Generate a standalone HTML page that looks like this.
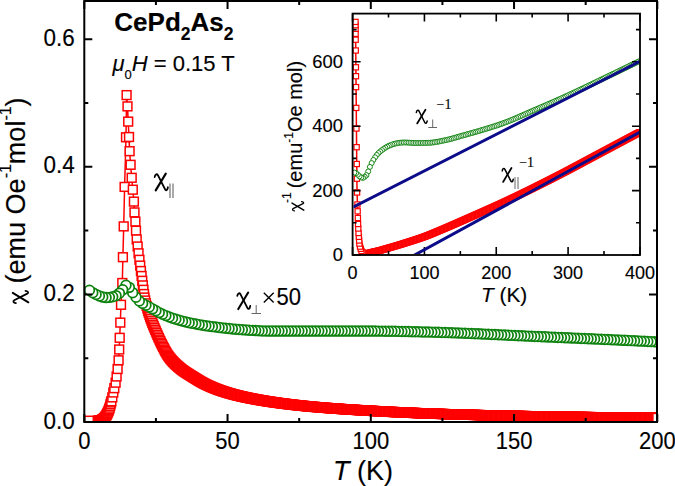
<!DOCTYPE html><html><head><meta charset="utf-8"><style>html,body{margin:0;padding:0;background:#fff;overflow:hidden;}svg{display:block;} text{stroke:#000;stroke-width:0.15px;}</style></head><body><svg width="675" height="486" viewBox="0 0 675 486">
<rect width="675" height="486" fill="#fff"/>
<clipPath id="mc"><rect x="84.3" y="1" width="572.7" height="421"/></clipPath>
<g clip-path="url(#mc)">
<polyline fill="none" stroke="#ff0000" stroke-width="1.5" points="89,420.7 98,420.7 98.45,420.67 98.9,420.65 99.34,420.62 99.79,420.58 100.24,420.46 100.69,420.35 101.14,420.24 101.59,420.05 102.03,419.81 102.48,419.57 102.93,419.29 103.38,418.9 103.83,418.52 104.28,418.11 104.72,417.55 105.17,417 105.62,416.41 106.07,415.7 106.52,414.99 106.97,414.19 107.41,413.34 107.86,412.45 108.31,411.38 108.76,410.3 109.21,408.98 109.66,407.63 110.1,405.99 110.55,404.29 111,402.5 111.3,401.3 112.3,397.4 113.3,392.5 114.3,388.2 115.6,382.7 116.6,376.5 117.6,369 118.6,360.3 119.2,349.5 119.7,337.8 120.3,322.6 121,304.8 122.3,283 122.9,257.2 123.7,226.4 124.6,186.9 126,137.3 126.6,95.1 127.5,106.4 128.2,121.6 129,137 129.6,151.2 130.6,164.8 131.7,177.8 132.8,189.7 133.9,201.6 134.5,212.4 135.4,221.6 136,230.7 136.7,239.4 137.65,246.5 138.56,253.3 139.43,259.8 140.21,265.6 140.93,271 141.6,276 142.25,280.8 142.86,285.4 143.45,289.8 144.02,294 144.47,297.53 145.18,300.55 145.9,303.34 146.61,305.94 147.33,308.38 148.05,310.69 148.76,312.91 149.48,315.04 150.19,317.12 150.91,319.14 151.63,321.07 152.34,322.9 153.06,324.67 153.78,326.39 154.49,328.09 155.21,329.77 155.93,331.45 156.64,333.12 157.36,334.78 158.07,336.41 158.79,338.01 159.51,339.58 160.22,341.11 160.94,342.61 161.66,344.06 162.37,345.46 163.09,346.86 163.8,348.24 164.52,349.6 165.24,350.93 165.95,352.21 166.67,353.42 167.38,354.58 168.1,355.66 168.82,356.66 169.53,357.61 170.25,358.52 170.97,359.39 171.68,360.22 172.4,361.02 173.12,361.79 173.83,362.54 174.55,363.26 175.26,363.96 175.98,364.63 176.7,365.29 177.41,365.94 178.13,366.56 178.84,367.18 179.56,367.78 180.28,368.37 180.99,368.95 181.71,369.51 182.43,370.06 183.14,370.58 183.86,371.09 184.57,371.59 185.29,372.08 186.01,372.55 186.72,373.02 187.44,373.48 188.16,373.94 188.87,374.39 189.59,374.84 190.31,375.28 191.02,375.72 191.74,376.17 192.45,376.61 193.17,377.05 193.89,377.5 194.6,377.95 195.32,378.39 196.04,378.84 196.75,379.28 197.47,379.72 198.18,380.16 198.9,380.59 199.62,381.01 200.33,381.43 201.05,381.84 201.76,382.24 202.48,382.64 203.2,383.02 203.91,383.4 204.63,383.77 205.35,384.13 206.06,384.48 206.78,384.82 207.5,385.16 208.21,385.5 208.93,385.83 209.64,386.15 210.36,386.47 211.08,386.78 211.79,387.09 212.51,387.39 213.23,387.69 213.94,387.98 214.66,388.27 215.37,388.55 216.09,388.83 216.81,389.1 217.52,389.37 218.24,389.64 218.95,389.9 219.67,390.16 220.39,390.41 221.1,390.66 221.82,390.9 222.54,391.15 223.25,391.38 223.97,391.62 224.69,391.85 225.4,392.08 226.12,392.3 226.83,392.52 227.55,392.74 228.27,392.95 228.98,393.16 229.7,393.37 230.42,393.57 231.13,393.78 231.85,393.98 232.56,394.17 233.28,394.36 234,394.55 234.71,394.74 235.43,394.93 236.14,395.11 236.86,395.29 237.58,395.46 238.29,395.64 239.01,395.81 239.73,395.98 240.44,396.15 241.16,396.32 241.88,396.48 242.59,396.64 243.31,396.8 244.02,396.96 244.74,397.11 245.46,397.27 246.17,397.42 246.89,397.57 247.61,397.72 248.32,397.87 249.04,398.01 249.75,398.16 250.47,398.3 251.19,398.44 251.9,398.58 252.62,398.72 253.34,398.86 254.05,398.99 254.77,399.13 255.48,399.26 256.2,399.39 256.92,399.52 257.63,399.65 258.35,399.78 259.06,399.91 259.78,400.04 260.5,400.16 261.21,400.28 261.93,400.41 262.65,400.53 263.36,400.65 264.08,400.77 264.8,400.88 265.51,401 266.23,401.12 266.94,401.23 267.66,401.34 268.38,401.46 269.09,401.57 269.81,401.68 270.53,401.79 271.24,401.89 271.96,402 272.67,402.11 273.39,402.21 274.11,402.31 274.82,402.42 275.54,402.52 276.25,402.62 276.97,402.72 277.69,402.82 278.4,402.92 279.12,403.02 279.84,403.11 280.55,403.21 281.27,403.3 281.99,403.4 282.7,403.49 283.42,403.58 284.13,403.67 284.85,403.77 285.57,403.86 286.28,403.94 287,404.03 287.72,404.12 288.43,404.21 289.15,404.29 289.86,404.38 290.58,404.46 291.3,404.55 292.01,404.63 292.73,404.71 293.44,404.8 294.16,404.88 294.88,404.96 295.59,405.04 296.31,405.12 297.03,405.2 297.74,405.27 298.46,405.35 299.18,405.43 299.89,405.5 300.61,405.58 301.32,405.65 302.04,405.73 302.76,405.8 303.47,405.87 304.19,405.95 304.91,406.02 305.62,406.09 306.34,406.16 307.05,406.23 307.77,406.3 308.49,406.36 309.2,406.43 309.92,406.5 310.63,406.57 311.35,406.63 312.07,406.7 312.78,406.76 313.5,406.83 314.22,406.89 314.93,406.95 315.65,407.02 316.37,407.08 317.08,407.14 317.8,407.2 318.51,407.26 319.23,407.32 319.95,407.38 320.66,407.44 321.38,407.5 322.1,407.56 322.81,407.62 323.53,407.67 324.24,407.73 324.96,407.79 325.68,407.85 326.39,407.9 327.11,407.96 327.82,408.01 328.54,408.07 329.26,408.12 329.97,408.18 330.69,408.23 331.41,408.28 332.12,408.34 332.84,408.39 333.56,408.44 334.27,408.49 334.99,408.55 335.7,408.6 336.42,408.65 337.14,408.7 337.85,408.75 338.57,408.8 339.29,408.85 340,408.9 340.72,408.95 341.43,409 342.15,409.05 342.87,409.1 343.58,409.14 344.3,409.19 345.02,409.24 345.73,409.29 346.45,409.34 347.16,409.38 347.88,409.43 348.6,409.48 349.31,409.52 350.03,409.57 350.75,409.61 351.46,409.66 352.18,409.7 352.89,409.75 353.61,409.79 354.33,409.84 355.04,409.88 355.76,409.93 356.48,409.97 357.19,410.01 357.91,410.06 358.62,410.1 359.34,410.14 360.06,410.19 360.77,410.23 361.49,410.27 362.21,410.31 362.92,410.36 363.64,410.4 364.35,410.44 365.07,410.48 365.79,410.52 366.5,410.56 367.22,410.6 367.94,410.65 368.65,410.69 369.37,410.73 370.08,410.77 370.8,410.81 371.52,410.85 372.23,410.89 372.95,410.93 373.67,410.97 374.38,411.01 375.1,411.04 375.81,411.08 376.53,411.12 377.25,411.16 377.96,411.2 378.68,411.24 379.4,411.28 380.11,411.32 380.83,411.35 381.54,411.39 382.26,411.43 382.98,411.47 383.69,411.51 384.41,411.54 385.13,411.58 385.84,411.62 386.56,411.66 387.27,411.69 387.99,411.73 388.71,411.77 389.42,411.8 390.14,411.84 390.86,411.87 391.57,411.91 392.29,411.95 393,411.98 393.72,412.02 394.44,412.05 395.15,412.09 395.87,412.12 396.59,412.16 397.3,412.19 398.02,412.22 398.73,412.26 399.45,412.29 400.17,412.33 400.88,412.36 401.6,412.39 402.32,412.43 403.03,412.46 403.75,412.49 404.46,412.52 405.18,412.56 405.9,412.59 406.61,412.62 407.33,412.65 408.05,412.68 408.76,412.71 409.48,412.75 410.19,412.78 410.91,412.81 411.63,412.84 412.34,412.87 413.06,412.9 413.78,412.93 414.49,412.96 415.21,412.99 415.92,413.02 416.64,413.05 417.36,413.08 418.07,413.11 418.79,413.14 419.51,413.16 420.22,413.19 420.94,413.22 421.65,413.25 422.37,413.28 423.09,413.3 423.8,413.33 424.52,413.36 425.24,413.39 425.95,413.41 426.67,413.44 427.38,413.47 428.1,413.49 428.82,413.52 429.53,413.55 430.25,413.57 430.97,413.6 431.68,413.62 432.4,413.65 433.11,413.67 433.83,413.7 434.55,413.72 435.26,413.75 435.98,413.77 436.7,413.8 437.41,413.82 438.13,413.85 438.84,413.87 439.56,413.9 440.28,413.92 440.99,413.95 441.71,413.97 442.43,413.99 443.14,414.02 443.86,414.04 444.57,414.06 445.29,414.09 446.01,414.11 446.72,414.13 447.44,414.16 448.16,414.18 448.87,414.2 449.59,414.22 450.3,414.25 451.02,414.27 451.74,414.29 452.45,414.31 453.17,414.33 453.89,414.36 454.6,414.38 455.32,414.4 456.03,414.42 456.75,414.44 457.47,414.46 458.18,414.48 458.9,414.51 459.62,414.53 460.33,414.55 461.05,414.57 461.76,414.59 462.48,414.61 463.2,414.63 463.91,414.65 464.63,414.67 465.35,414.69 466.06,414.71 466.78,414.73 467.49,414.75 468.21,414.77 468.93,414.79 469.64,414.81 470.36,414.83 471.08,414.85 471.79,414.87 472.51,414.89 473.22,414.91 473.94,414.92 474.66,414.94 475.37,414.96 476.09,414.98 476.81,415 477.52,415.02 478.24,415.04 478.95,415.05 479.67,415.07 480.39,415.09 481.1,415.11 481.82,415.13 482.54,415.14 483.25,415.16 483.97,415.18 484.68,415.2 485.4,415.22 486.12,415.23 486.83,415.25 487.55,415.27 488.27,415.28 488.98,415.3 489.7,415.32 490.41,415.34 491.13,415.35 491.85,415.37 492.56,415.39 493.28,415.4 494,415.42 494.71,415.44 495.43,415.45 496.14,415.47 496.86,415.49 497.58,415.5 498.29,415.52 499.01,415.53 499.73,415.55 500.44,415.57 501.16,415.58 501.87,415.6 502.59,415.61 503.31,415.63 504.02,415.64 504.74,415.66 505.46,415.67 506.17,415.69 506.89,415.71 507.6,415.72 508.32,415.74 509.04,415.75 509.75,415.77 510.47,415.78 511.19,415.8 511.9,415.81 512.62,415.82 513.33,415.84 514.05,415.85 514.77,415.87 515.48,415.88 516.2,415.9 516.91,415.91 517.63,415.93 518.35,415.94 519.06,415.95 519.78,415.97 520.5,415.98 521.21,416 521.93,416.01 522.64,416.02 523.36,416.04 524.08,416.05 524.79,416.06 525.51,416.08 526.23,416.09 526.94,416.11 527.66,416.12 528.38,416.13 529.09,416.15 529.81,416.16 530.52,416.17 531.24,416.18 531.96,416.2 532.67,416.21 533.39,416.22 534.11,416.24 534.82,416.25 535.54,416.26 536.25,416.27 536.97,416.29 537.69,416.3 538.4,416.31 539.12,416.32 539.84,416.34 540.55,416.35 541.27,416.36 541.98,416.37 542.7,416.39 543.42,416.4 544.13,416.41 544.85,416.42 545.57,416.43 546.28,416.45 547,416.46 547.71,416.47 548.43,416.48 549.15,416.49 549.86,416.51 550.58,416.52 551.3,416.53 552.01,416.54 552.73,416.55 553.44,416.56 554.16,416.57 554.88,416.59 555.59,416.6 556.31,416.61 557.02,416.62 557.74,416.63 558.46,416.64 559.17,416.65 559.89,416.66 560.61,416.67 561.32,416.69 562.04,416.7 562.75,416.71 563.47,416.72 564.19,416.73 564.9,416.74 565.62,416.75 566.34,416.76 567.05,416.77 567.77,416.78 568.49,416.79 569.2,416.8 569.92,416.81 570.63,416.82 571.35,416.83 572.07,416.84 572.78,416.85 573.5,416.86 574.22,416.87 574.93,416.89 575.65,416.9 576.36,416.91 577.08,416.92 577.8,416.93 578.51,416.94 579.23,416.94 579.95,416.95 580.66,416.96 581.38,416.97 582.09,416.98 582.81,416.99 583.53,417 584.24,417.01 584.96,417.02 585.68,417.03 586.39,417.04 587.11,417.05 587.82,417.06 588.54,417.07 589.26,417.08 589.97,417.09 590.69,417.1 591.4,417.11 592.12,417.12 592.84,417.13 593.55,417.14 594.27,417.14 594.99,417.15 595.7,417.16 596.42,417.17 597.13,417.18 597.85,417.19 598.57,417.2 599.28,417.21 600,417.22 600.72,417.23 601.43,417.23 602.15,417.24 602.87,417.25 603.58,417.26 604.3,417.27 605.01,417.28 605.73,417.29 606.45,417.29 607.16,417.3 607.88,417.31 608.6,417.32 609.31,417.33 610.03,417.34 610.74,417.35 611.46,417.35 612.18,417.36 612.89,417.37 613.61,417.38 614.33,417.39 615.04,417.4 615.76,417.4 616.47,417.41 617.19,417.42 617.91,417.43 618.62,417.44 619.34,417.44 620.05,417.45 620.77,417.46 621.49,417.47 622.2,417.48 622.92,417.48 623.64,417.49 624.35,417.5 625.07,417.51 625.78,417.52 626.5,417.52 627.22,417.53 627.93,417.54 628.65,417.55 629.37,417.56 630.08,417.56 630.8,417.57 631.51,417.58 632.23,417.59 632.95,417.59 633.66,417.6 634.38,417.61 635.1,417.62 635.81,417.62 636.53,417.63 637.25,417.64 637.96,417.65 638.68,417.65 639.39,417.66 640.11,417.67 640.83,417.68 641.54,417.68 642.26,417.69 642.98,417.7 643.69,417.7 644.41,417.71 645.12,417.72 645.84,417.73 646.56,417.73 647.27,417.74 647.99,417.75 648.71,417.76 649.42,417.76 650.14,417.77 650.85,417.78 651.57,417.78 652.29,417.79 653,417.8 653.72,417.8 654.43,417.81 655.15,417.82 655.87,417.83 656.58,417.83 657.3,417.84"/>
<g fill="#fff" stroke="#ff0000" stroke-width="1.5"><rect x="84.6" y="416.3" width="8.8" height="8.8"/><rect x="93.6" y="416.3" width="8.8" height="8.8"/><rect x="94.05" y="416.27" width="8.8" height="8.8"/><rect x="94.5" y="416.25" width="8.8" height="8.8"/><rect x="94.94" y="416.22" width="8.8" height="8.8"/><rect x="95.39" y="416.18" width="8.8" height="8.8"/><rect x="95.84" y="416.06" width="8.8" height="8.8"/><rect x="96.29" y="415.95" width="8.8" height="8.8"/><rect x="96.74" y="415.84" width="8.8" height="8.8"/><rect x="97.19" y="415.65" width="8.8" height="8.8"/><rect x="97.63" y="415.41" width="8.8" height="8.8"/><rect x="98.08" y="415.17" width="8.8" height="8.8"/><rect x="98.53" y="414.89" width="8.8" height="8.8"/><rect x="98.98" y="414.5" width="8.8" height="8.8"/><rect x="99.43" y="414.12" width="8.8" height="8.8"/><rect x="99.88" y="413.71" width="8.8" height="8.8"/><rect x="100.32" y="413.15" width="8.8" height="8.8"/><rect x="100.77" y="412.6" width="8.8" height="8.8"/><rect x="101.22" y="412.01" width="8.8" height="8.8"/><rect x="101.67" y="411.3" width="8.8" height="8.8"/><rect x="102.12" y="410.59" width="8.8" height="8.8"/><rect x="102.57" y="409.79" width="8.8" height="8.8"/><rect x="103.01" y="408.94" width="8.8" height="8.8"/><rect x="103.46" y="408.05" width="8.8" height="8.8"/><rect x="103.91" y="406.98" width="8.8" height="8.8"/><rect x="104.36" y="405.9" width="8.8" height="8.8"/><rect x="104.81" y="404.58" width="8.8" height="8.8"/><rect x="105.26" y="403.23" width="8.8" height="8.8"/><rect x="105.7" y="401.59" width="8.8" height="8.8"/><rect x="106.15" y="399.89" width="8.8" height="8.8"/><rect x="106.6" y="398.1" width="8.8" height="8.8"/><rect x="106.9" y="396.9" width="8.8" height="8.8"/><rect x="107.9" y="393" width="8.8" height="8.8"/><rect x="108.9" y="388.1" width="8.8" height="8.8"/><rect x="109.9" y="383.8" width="8.8" height="8.8"/><rect x="111.2" y="378.3" width="8.8" height="8.8"/><rect x="112.2" y="372.1" width="8.8" height="8.8"/><rect x="113.2" y="364.6" width="8.8" height="8.8"/><rect x="114.2" y="355.9" width="8.8" height="8.8"/><rect x="114.8" y="345.1" width="8.8" height="8.8"/><rect x="115.3" y="333.4" width="8.8" height="8.8"/><rect x="115.9" y="318.2" width="8.8" height="8.8"/><rect x="116.6" y="300.4" width="8.8" height="8.8"/><rect x="117.9" y="278.6" width="8.8" height="8.8"/><rect x="118.5" y="252.8" width="8.8" height="8.8"/><rect x="119.3" y="222" width="8.8" height="8.8"/><rect x="120.2" y="182.5" width="8.8" height="8.8"/><rect x="121.6" y="132.9" width="8.8" height="8.8"/><rect x="122.2" y="90.7" width="8.8" height="8.8"/><rect x="123.1" y="102" width="8.8" height="8.8"/><rect x="123.8" y="117.2" width="8.8" height="8.8"/><rect x="124.6" y="132.6" width="8.8" height="8.8"/><rect x="125.2" y="146.8" width="8.8" height="8.8"/><rect x="126.2" y="160.4" width="8.8" height="8.8"/><rect x="127.3" y="173.4" width="8.8" height="8.8"/><rect x="128.4" y="185.3" width="8.8" height="8.8"/><rect x="129.5" y="197.2" width="8.8" height="8.8"/><rect x="130.1" y="208" width="8.8" height="8.8"/><rect x="131" y="217.2" width="8.8" height="8.8"/><rect x="131.6" y="226.3" width="8.8" height="8.8"/><rect x="132.3" y="235" width="8.8" height="8.8"/><rect x="133.25" y="242.1" width="8.8" height="8.8"/><rect x="134.16" y="248.9" width="8.8" height="8.8"/><rect x="135.03" y="255.4" width="8.8" height="8.8"/><rect x="135.81" y="261.2" width="8.8" height="8.8"/><rect x="136.53" y="266.6" width="8.8" height="8.8"/><rect x="137.2" y="271.6" width="8.8" height="8.8"/><rect x="137.85" y="276.4" width="8.8" height="8.8"/><rect x="138.46" y="281" width="8.8" height="8.8"/><rect x="139.05" y="285.4" width="8.8" height="8.8"/><rect x="139.62" y="289.6" width="8.8" height="8.8"/><rect x="140.06" y="293.13" width="8.8" height="8.8"/><rect x="140.78" y="296.15" width="8.8" height="8.8"/><rect x="141.5" y="298.94" width="8.8" height="8.8"/><rect x="142.21" y="301.54" width="8.8" height="8.8"/><rect x="142.93" y="303.98" width="8.8" height="8.8"/><rect x="143.65" y="306.29" width="8.8" height="8.8"/><rect x="144.36" y="308.51" width="8.8" height="8.8"/><rect x="145.08" y="310.64" width="8.8" height="8.8"/><rect x="145.79" y="312.72" width="8.8" height="8.8"/><rect x="146.51" y="314.74" width="8.8" height="8.8"/><rect x="147.23" y="316.67" width="8.8" height="8.8"/><rect x="147.94" y="318.5" width="8.8" height="8.8"/><rect x="148.66" y="320.27" width="8.8" height="8.8"/><rect x="149.38" y="321.99" width="8.8" height="8.8"/><rect x="150.09" y="323.69" width="8.8" height="8.8"/><rect x="150.81" y="325.37" width="8.8" height="8.8"/><rect x="151.53" y="327.05" width="8.8" height="8.8"/><rect x="152.24" y="328.72" width="8.8" height="8.8"/><rect x="152.96" y="330.38" width="8.8" height="8.8"/><rect x="153.67" y="332.01" width="8.8" height="8.8"/><rect x="154.39" y="333.61" width="8.8" height="8.8"/><rect x="155.11" y="335.18" width="8.8" height="8.8"/><rect x="155.82" y="336.71" width="8.8" height="8.8"/><rect x="156.54" y="338.21" width="8.8" height="8.8"/><rect x="157.25" y="339.66" width="8.8" height="8.8"/><rect x="157.97" y="341.06" width="8.8" height="8.8"/><rect x="158.69" y="342.46" width="8.8" height="8.8"/><rect x="159.4" y="343.84" width="8.8" height="8.8"/><rect x="160.12" y="345.2" width="8.8" height="8.8"/><rect x="160.84" y="346.53" width="8.8" height="8.8"/><rect x="161.55" y="347.81" width="8.8" height="8.8"/><rect x="162.27" y="349.02" width="8.8" height="8.8"/><rect x="162.98" y="350.18" width="8.8" height="8.8"/><rect x="163.7" y="351.26" width="8.8" height="8.8"/><rect x="164.42" y="352.26" width="8.8" height="8.8"/><rect x="165.13" y="353.21" width="8.8" height="8.8"/><rect x="165.85" y="354.12" width="8.8" height="8.8"/><rect x="166.57" y="354.99" width="8.8" height="8.8"/><rect x="167.28" y="355.82" width="8.8" height="8.8"/><rect x="168" y="356.62" width="8.8" height="8.8"/><rect x="168.72" y="357.39" width="8.8" height="8.8"/><rect x="169.43" y="358.14" width="8.8" height="8.8"/><rect x="170.15" y="358.86" width="8.8" height="8.8"/><rect x="170.86" y="359.56" width="8.8" height="8.8"/><rect x="171.58" y="360.23" width="8.8" height="8.8"/><rect x="172.3" y="360.89" width="8.8" height="8.8"/><rect x="173.01" y="361.54" width="8.8" height="8.8"/><rect x="173.73" y="362.16" width="8.8" height="8.8"/><rect x="174.44" y="362.78" width="8.8" height="8.8"/><rect x="175.16" y="363.38" width="8.8" height="8.8"/><rect x="175.88" y="363.97" width="8.8" height="8.8"/><rect x="176.59" y="364.55" width="8.8" height="8.8"/><rect x="177.31" y="365.11" width="8.8" height="8.8"/><rect x="178.03" y="365.66" width="8.8" height="8.8"/><rect x="178.74" y="366.18" width="8.8" height="8.8"/><rect x="179.46" y="366.69" width="8.8" height="8.8"/><rect x="180.17" y="367.19" width="8.8" height="8.8"/><rect x="180.89" y="367.68" width="8.8" height="8.8"/><rect x="181.61" y="368.15" width="8.8" height="8.8"/><rect x="182.32" y="368.62" width="8.8" height="8.8"/><rect x="183.04" y="369.08" width="8.8" height="8.8"/><rect x="183.76" y="369.54" width="8.8" height="8.8"/><rect x="184.47" y="369.99" width="8.8" height="8.8"/><rect x="185.19" y="370.44" width="8.8" height="8.8"/><rect x="185.91" y="370.88" width="8.8" height="8.8"/><rect x="186.62" y="371.32" width="8.8" height="8.8"/><rect x="187.34" y="371.77" width="8.8" height="8.8"/><rect x="188.05" y="372.21" width="8.8" height="8.8"/><rect x="188.77" y="372.65" width="8.8" height="8.8"/><rect x="189.49" y="373.1" width="8.8" height="8.8"/><rect x="190.2" y="373.55" width="8.8" height="8.8"/><rect x="190.92" y="373.99" width="8.8" height="8.8"/><rect x="191.64" y="374.44" width="8.8" height="8.8"/><rect x="192.35" y="374.88" width="8.8" height="8.8"/><rect x="193.07" y="375.32" width="8.8" height="8.8"/><rect x="193.78" y="375.76" width="8.8" height="8.8"/><rect x="194.5" y="376.19" width="8.8" height="8.8"/><rect x="195.22" y="376.61" width="8.8" height="8.8"/><rect x="195.93" y="377.03" width="8.8" height="8.8"/><rect x="196.65" y="377.44" width="8.8" height="8.8"/><rect x="197.36" y="377.84" width="8.8" height="8.8"/><rect x="198.08" y="378.24" width="8.8" height="8.8"/><rect x="198.8" y="378.62" width="8.8" height="8.8"/><rect x="199.51" y="379" width="8.8" height="8.8"/><rect x="200.23" y="379.37" width="8.8" height="8.8"/><rect x="200.95" y="379.73" width="8.8" height="8.8"/><rect x="201.66" y="380.08" width="8.8" height="8.8"/><rect x="202.38" y="380.42" width="8.8" height="8.8"/><rect x="203.09" y="380.76" width="8.8" height="8.8"/><rect x="203.81" y="381.1" width="8.8" height="8.8"/><rect x="204.53" y="381.43" width="8.8" height="8.8"/><rect x="205.24" y="381.75" width="8.8" height="8.8"/><rect x="205.96" y="382.07" width="8.8" height="8.8"/><rect x="206.68" y="382.38" width="8.8" height="8.8"/><rect x="207.39" y="382.69" width="8.8" height="8.8"/><rect x="208.11" y="382.99" width="8.8" height="8.8"/><rect x="208.83" y="383.29" width="8.8" height="8.8"/><rect x="209.54" y="383.58" width="8.8" height="8.8"/><rect x="210.26" y="383.87" width="8.8" height="8.8"/><rect x="210.97" y="384.15" width="8.8" height="8.8"/><rect x="211.69" y="384.43" width="8.8" height="8.8"/><rect x="212.41" y="384.7" width="8.8" height="8.8"/><rect x="213.12" y="384.97" width="8.8" height="8.8"/><rect x="213.84" y="385.24" width="8.8" height="8.8"/><rect x="214.55" y="385.5" width="8.8" height="8.8"/><rect x="215.27" y="385.76" width="8.8" height="8.8"/><rect x="215.99" y="386.01" width="8.8" height="8.8"/><rect x="216.7" y="386.26" width="8.8" height="8.8"/><rect x="217.42" y="386.5" width="8.8" height="8.8"/><rect x="218.14" y="386.75" width="8.8" height="8.8"/><rect x="218.85" y="386.98" width="8.8" height="8.8"/><rect x="219.57" y="387.22" width="8.8" height="8.8"/><rect x="220.28" y="387.45" width="8.8" height="8.8"/><rect x="221" y="387.68" width="8.8" height="8.8"/><rect x="221.72" y="387.9" width="8.8" height="8.8"/><rect x="222.43" y="388.12" width="8.8" height="8.8"/><rect x="223.15" y="388.34" width="8.8" height="8.8"/><rect x="223.87" y="388.55" width="8.8" height="8.8"/><rect x="224.58" y="388.76" width="8.8" height="8.8"/><rect x="225.3" y="388.97" width="8.8" height="8.8"/><rect x="226.02" y="389.17" width="8.8" height="8.8"/><rect x="226.73" y="389.38" width="8.8" height="8.8"/><rect x="227.45" y="389.58" width="8.8" height="8.8"/><rect x="228.16" y="389.77" width="8.8" height="8.8"/><rect x="228.88" y="389.96" width="8.8" height="8.8"/><rect x="229.6" y="390.15" width="8.8" height="8.8"/><rect x="230.31" y="390.34" width="8.8" height="8.8"/><rect x="231.03" y="390.53" width="8.8" height="8.8"/><rect x="231.74" y="390.71" width="8.8" height="8.8"/><rect x="232.46" y="390.89" width="8.8" height="8.8"/><rect x="233.18" y="391.06" width="8.8" height="8.8"/><rect x="233.89" y="391.24" width="8.8" height="8.8"/><rect x="234.61" y="391.41" width="8.8" height="8.8"/><rect x="235.33" y="391.58" width="8.8" height="8.8"/><rect x="236.04" y="391.75" width="8.8" height="8.8"/><rect x="236.76" y="391.92" width="8.8" height="8.8"/><rect x="237.47" y="392.08" width="8.8" height="8.8"/><rect x="238.19" y="392.24" width="8.8" height="8.8"/><rect x="238.91" y="392.4" width="8.8" height="8.8"/><rect x="239.62" y="392.56" width="8.8" height="8.8"/><rect x="240.34" y="392.71" width="8.8" height="8.8"/><rect x="241.06" y="392.87" width="8.8" height="8.8"/><rect x="241.77" y="393.02" width="8.8" height="8.8"/><rect x="242.49" y="393.17" width="8.8" height="8.8"/><rect x="243.21" y="393.32" width="8.8" height="8.8"/><rect x="243.92" y="393.47" width="8.8" height="8.8"/><rect x="244.64" y="393.61" width="8.8" height="8.8"/><rect x="245.35" y="393.76" width="8.8" height="8.8"/><rect x="246.07" y="393.9" width="8.8" height="8.8"/><rect x="246.79" y="394.04" width="8.8" height="8.8"/><rect x="247.5" y="394.18" width="8.8" height="8.8"/><rect x="248.22" y="394.32" width="8.8" height="8.8"/><rect x="248.94" y="394.46" width="8.8" height="8.8"/><rect x="249.65" y="394.59" width="8.8" height="8.8"/><rect x="250.37" y="394.73" width="8.8" height="8.8"/><rect x="251.08" y="394.86" width="8.8" height="8.8"/><rect x="251.8" y="394.99" width="8.8" height="8.8"/><rect x="252.52" y="395.12" width="8.8" height="8.8"/><rect x="253.23" y="395.25" width="8.8" height="8.8"/><rect x="253.95" y="395.38" width="8.8" height="8.8"/><rect x="254.66" y="395.51" width="8.8" height="8.8"/><rect x="255.38" y="395.64" width="8.8" height="8.8"/><rect x="256.1" y="395.76" width="8.8" height="8.8"/><rect x="256.81" y="395.88" width="8.8" height="8.8"/><rect x="257.53" y="396.01" width="8.8" height="8.8"/><rect x="258.25" y="396.13" width="8.8" height="8.8"/><rect x="258.96" y="396.25" width="8.8" height="8.8"/><rect x="259.68" y="396.37" width="8.8" height="8.8"/><rect x="260.4" y="396.48" width="8.8" height="8.8"/><rect x="261.11" y="396.6" width="8.8" height="8.8"/><rect x="261.83" y="396.72" width="8.8" height="8.8"/><rect x="262.54" y="396.83" width="8.8" height="8.8"/><rect x="263.26" y="396.94" width="8.8" height="8.8"/><rect x="263.98" y="397.06" width="8.8" height="8.8"/><rect x="264.69" y="397.17" width="8.8" height="8.8"/><rect x="265.41" y="397.28" width="8.8" height="8.8"/><rect x="266.13" y="397.39" width="8.8" height="8.8"/><rect x="266.84" y="397.49" width="8.8" height="8.8"/><rect x="267.56" y="397.6" width="8.8" height="8.8"/><rect x="268.27" y="397.71" width="8.8" height="8.8"/><rect x="268.99" y="397.81" width="8.8" height="8.8"/><rect x="269.71" y="397.91" width="8.8" height="8.8"/><rect x="270.42" y="398.02" width="8.8" height="8.8"/><rect x="271.14" y="398.12" width="8.8" height="8.8"/><rect x="271.86" y="398.22" width="8.8" height="8.8"/><rect x="272.57" y="398.32" width="8.8" height="8.8"/><rect x="273.29" y="398.42" width="8.8" height="8.8"/><rect x="274" y="398.52" width="8.8" height="8.8"/><rect x="274.72" y="398.62" width="8.8" height="8.8"/><rect x="275.44" y="398.71" width="8.8" height="8.8"/><rect x="276.15" y="398.81" width="8.8" height="8.8"/><rect x="276.87" y="398.9" width="8.8" height="8.8"/><rect x="277.59" y="399" width="8.8" height="8.8"/><rect x="278.3" y="399.09" width="8.8" height="8.8"/><rect x="279.02" y="399.18" width="8.8" height="8.8"/><rect x="279.73" y="399.27" width="8.8" height="8.8"/><rect x="280.45" y="399.37" width="8.8" height="8.8"/><rect x="281.17" y="399.46" width="8.8" height="8.8"/><rect x="281.88" y="399.54" width="8.8" height="8.8"/><rect x="282.6" y="399.63" width="8.8" height="8.8"/><rect x="283.32" y="399.72" width="8.8" height="8.8"/><rect x="284.03" y="399.81" width="8.8" height="8.8"/><rect x="284.75" y="399.89" width="8.8" height="8.8"/><rect x="285.46" y="399.98" width="8.8" height="8.8"/><rect x="286.18" y="400.06" width="8.8" height="8.8"/><rect x="286.9" y="400.15" width="8.8" height="8.8"/><rect x="287.61" y="400.23" width="8.8" height="8.8"/><rect x="288.33" y="400.31" width="8.8" height="8.8"/><rect x="289.05" y="400.4" width="8.8" height="8.8"/><rect x="289.76" y="400.48" width="8.8" height="8.8"/><rect x="290.48" y="400.56" width="8.8" height="8.8"/><rect x="291.19" y="400.64" width="8.8" height="8.8"/><rect x="291.91" y="400.72" width="8.8" height="8.8"/><rect x="292.63" y="400.8" width="8.8" height="8.8"/><rect x="293.34" y="400.87" width="8.8" height="8.8"/><rect x="294.06" y="400.95" width="8.8" height="8.8"/><rect x="294.78" y="401.03" width="8.8" height="8.8"/><rect x="295.49" y="401.1" width="8.8" height="8.8"/><rect x="296.21" y="401.18" width="8.8" height="8.8"/><rect x="296.92" y="401.25" width="8.8" height="8.8"/><rect x="297.64" y="401.33" width="8.8" height="8.8"/><rect x="298.36" y="401.4" width="8.8" height="8.8"/><rect x="299.07" y="401.47" width="8.8" height="8.8"/><rect x="299.79" y="401.55" width="8.8" height="8.8"/><rect x="300.51" y="401.62" width="8.8" height="8.8"/><rect x="301.22" y="401.69" width="8.8" height="8.8"/><rect x="301.94" y="401.76" width="8.8" height="8.8"/><rect x="302.65" y="401.83" width="8.8" height="8.8"/><rect x="303.37" y="401.9" width="8.8" height="8.8"/><rect x="304.09" y="401.96" width="8.8" height="8.8"/><rect x="304.8" y="402.03" width="8.8" height="8.8"/><rect x="305.52" y="402.1" width="8.8" height="8.8"/><rect x="306.24" y="402.17" width="8.8" height="8.8"/><rect x="306.95" y="402.23" width="8.8" height="8.8"/><rect x="307.67" y="402.3" width="8.8" height="8.8"/><rect x="308.38" y="402.36" width="8.8" height="8.8"/><rect x="309.1" y="402.43" width="8.8" height="8.8"/><rect x="309.82" y="402.49" width="8.8" height="8.8"/><rect x="310.53" y="402.55" width="8.8" height="8.8"/><rect x="311.25" y="402.62" width="8.8" height="8.8"/><rect x="311.97" y="402.68" width="8.8" height="8.8"/><rect x="312.68" y="402.74" width="8.8" height="8.8"/><rect x="313.4" y="402.8" width="8.8" height="8.8"/><rect x="314.11" y="402.86" width="8.8" height="8.8"/><rect x="314.83" y="402.92" width="8.8" height="8.8"/><rect x="315.55" y="402.98" width="8.8" height="8.8"/><rect x="316.26" y="403.04" width="8.8" height="8.8"/><rect x="316.98" y="403.1" width="8.8" height="8.8"/><rect x="317.7" y="403.16" width="8.8" height="8.8"/><rect x="318.41" y="403.22" width="8.8" height="8.8"/><rect x="319.13" y="403.27" width="8.8" height="8.8"/><rect x="319.84" y="403.33" width="8.8" height="8.8"/><rect x="320.56" y="403.39" width="8.8" height="8.8"/><rect x="321.28" y="403.45" width="8.8" height="8.8"/><rect x="321.99" y="403.5" width="8.8" height="8.8"/><rect x="322.71" y="403.56" width="8.8" height="8.8"/><rect x="323.43" y="403.61" width="8.8" height="8.8"/><rect x="324.14" y="403.67" width="8.8" height="8.8"/><rect x="324.86" y="403.72" width="8.8" height="8.8"/><rect x="325.57" y="403.78" width="8.8" height="8.8"/><rect x="326.29" y="403.83" width="8.8" height="8.8"/><rect x="327.01" y="403.88" width="8.8" height="8.8"/><rect x="327.72" y="403.94" width="8.8" height="8.8"/><rect x="328.44" y="403.99" width="8.8" height="8.8"/><rect x="329.16" y="404.04" width="8.8" height="8.8"/><rect x="329.87" y="404.09" width="8.8" height="8.8"/><rect x="330.59" y="404.15" width="8.8" height="8.8"/><rect x="331.3" y="404.2" width="8.8" height="8.8"/><rect x="332.02" y="404.25" width="8.8" height="8.8"/><rect x="332.74" y="404.3" width="8.8" height="8.8"/><rect x="333.45" y="404.35" width="8.8" height="8.8"/><rect x="334.17" y="404.4" width="8.8" height="8.8"/><rect x="334.89" y="404.45" width="8.8" height="8.8"/><rect x="335.6" y="404.5" width="8.8" height="8.8"/><rect x="336.32" y="404.55" width="8.8" height="8.8"/><rect x="337.03" y="404.6" width="8.8" height="8.8"/><rect x="337.75" y="404.65" width="8.8" height="8.8"/><rect x="338.47" y="404.7" width="8.8" height="8.8"/><rect x="339.18" y="404.74" width="8.8" height="8.8"/><rect x="339.9" y="404.79" width="8.8" height="8.8"/><rect x="340.62" y="404.84" width="8.8" height="8.8"/><rect x="341.33" y="404.89" width="8.8" height="8.8"/><rect x="342.05" y="404.94" width="8.8" height="8.8"/><rect x="342.76" y="404.98" width="8.8" height="8.8"/><rect x="343.48" y="405.03" width="8.8" height="8.8"/><rect x="344.2" y="405.08" width="8.8" height="8.8"/><rect x="344.91" y="405.12" width="8.8" height="8.8"/><rect x="345.63" y="405.17" width="8.8" height="8.8"/><rect x="346.35" y="405.21" width="8.8" height="8.8"/><rect x="347.06" y="405.26" width="8.8" height="8.8"/><rect x="347.78" y="405.3" width="8.8" height="8.8"/><rect x="348.49" y="405.35" width="8.8" height="8.8"/><rect x="349.21" y="405.39" width="8.8" height="8.8"/><rect x="349.93" y="405.44" width="8.8" height="8.8"/><rect x="350.64" y="405.48" width="8.8" height="8.8"/><rect x="351.36" y="405.53" width="8.8" height="8.8"/><rect x="352.08" y="405.57" width="8.8" height="8.8"/><rect x="352.79" y="405.61" width="8.8" height="8.8"/><rect x="353.51" y="405.66" width="8.8" height="8.8"/><rect x="354.22" y="405.7" width="8.8" height="8.8"/><rect x="354.94" y="405.74" width="8.8" height="8.8"/><rect x="355.66" y="405.79" width="8.8" height="8.8"/><rect x="356.37" y="405.83" width="8.8" height="8.8"/><rect x="357.09" y="405.87" width="8.8" height="8.8"/><rect x="357.81" y="405.91" width="8.8" height="8.8"/><rect x="358.52" y="405.96" width="8.8" height="8.8"/><rect x="359.24" y="406" width="8.8" height="8.8"/><rect x="359.95" y="406.04" width="8.8" height="8.8"/><rect x="360.67" y="406.08" width="8.8" height="8.8"/><rect x="361.39" y="406.12" width="8.8" height="8.8"/><rect x="362.1" y="406.16" width="8.8" height="8.8"/><rect x="362.82" y="406.2" width="8.8" height="8.8"/><rect x="363.54" y="406.25" width="8.8" height="8.8"/><rect x="364.25" y="406.29" width="8.8" height="8.8"/><rect x="364.97" y="406.33" width="8.8" height="8.8"/><rect x="365.68" y="406.37" width="8.8" height="8.8"/><rect x="366.4" y="406.41" width="8.8" height="8.8"/><rect x="367.12" y="406.45" width="8.8" height="8.8"/><rect x="367.83" y="406.49" width="8.8" height="8.8"/><rect x="368.55" y="406.53" width="8.8" height="8.8"/><rect x="369.27" y="406.57" width="8.8" height="8.8"/><rect x="369.98" y="406.61" width="8.8" height="8.8"/><rect x="370.7" y="406.64" width="8.8" height="8.8"/><rect x="371.41" y="406.68" width="8.8" height="8.8"/><rect x="372.13" y="406.72" width="8.8" height="8.8"/><rect x="372.85" y="406.76" width="8.8" height="8.8"/><rect x="373.56" y="406.8" width="8.8" height="8.8"/><rect x="374.28" y="406.84" width="8.8" height="8.8"/><rect x="375" y="406.88" width="8.8" height="8.8"/><rect x="375.71" y="406.92" width="8.8" height="8.8"/><rect x="376.43" y="406.95" width="8.8" height="8.8"/><rect x="377.14" y="406.99" width="8.8" height="8.8"/><rect x="377.86" y="407.03" width="8.8" height="8.8"/><rect x="378.58" y="407.07" width="8.8" height="8.8"/><rect x="379.29" y="407.11" width="8.8" height="8.8"/><rect x="380.01" y="407.14" width="8.8" height="8.8"/><rect x="380.73" y="407.18" width="8.8" height="8.8"/><rect x="381.44" y="407.22" width="8.8" height="8.8"/><rect x="382.16" y="407.26" width="8.8" height="8.8"/><rect x="382.87" y="407.29" width="8.8" height="8.8"/><rect x="383.59" y="407.33" width="8.8" height="8.8"/><rect x="384.31" y="407.37" width="8.8" height="8.8"/><rect x="385.02" y="407.4" width="8.8" height="8.8"/><rect x="385.74" y="407.44" width="8.8" height="8.8"/><rect x="386.46" y="407.47" width="8.8" height="8.8"/><rect x="387.17" y="407.51" width="8.8" height="8.8"/><rect x="387.89" y="407.55" width="8.8" height="8.8"/><rect x="388.6" y="407.58" width="8.8" height="8.8"/><rect x="389.32" y="407.62" width="8.8" height="8.8"/><rect x="390.04" y="407.65" width="8.8" height="8.8"/><rect x="390.75" y="407.69" width="8.8" height="8.8"/><rect x="391.47" y="407.72" width="8.8" height="8.8"/><rect x="392.19" y="407.76" width="8.8" height="8.8"/><rect x="392.9" y="407.79" width="8.8" height="8.8"/><rect x="393.62" y="407.82" width="8.8" height="8.8"/><rect x="394.33" y="407.86" width="8.8" height="8.8"/><rect x="395.05" y="407.89" width="8.8" height="8.8"/><rect x="395.77" y="407.93" width="8.8" height="8.8"/><rect x="396.48" y="407.96" width="8.8" height="8.8"/><rect x="397.2" y="407.99" width="8.8" height="8.8"/><rect x="397.92" y="408.03" width="8.8" height="8.8"/><rect x="398.63" y="408.06" width="8.8" height="8.8"/><rect x="399.35" y="408.09" width="8.8" height="8.8"/><rect x="400.06" y="408.12" width="8.8" height="8.8"/><rect x="400.78" y="408.16" width="8.8" height="8.8"/><rect x="401.5" y="408.19" width="8.8" height="8.8"/><rect x="402.21" y="408.22" width="8.8" height="8.8"/><rect x="402.93" y="408.25" width="8.8" height="8.8"/><rect x="403.65" y="408.28" width="8.8" height="8.8"/><rect x="404.36" y="408.31" width="8.8" height="8.8"/><rect x="405.08" y="408.35" width="8.8" height="8.8"/><rect x="405.79" y="408.38" width="8.8" height="8.8"/><rect x="406.51" y="408.41" width="8.8" height="8.8"/><rect x="407.23" y="408.44" width="8.8" height="8.8"/><rect x="407.94" y="408.47" width="8.8" height="8.8"/><rect x="408.66" y="408.5" width="8.8" height="8.8"/><rect x="409.38" y="408.53" width="8.8" height="8.8"/><rect x="410.09" y="408.56" width="8.8" height="8.8"/><rect x="410.81" y="408.59" width="8.8" height="8.8"/><rect x="411.52" y="408.62" width="8.8" height="8.8"/><rect x="412.24" y="408.65" width="8.8" height="8.8"/><rect x="412.96" y="408.68" width="8.8" height="8.8"/><rect x="413.67" y="408.71" width="8.8" height="8.8"/><rect x="414.39" y="408.74" width="8.8" height="8.8"/><rect x="415.11" y="408.76" width="8.8" height="8.8"/><rect x="415.82" y="408.79" width="8.8" height="8.8"/><rect x="416.54" y="408.82" width="8.8" height="8.8"/><rect x="417.25" y="408.85" width="8.8" height="8.8"/><rect x="417.97" y="408.88" width="8.8" height="8.8"/><rect x="418.69" y="408.9" width="8.8" height="8.8"/><rect x="419.4" y="408.93" width="8.8" height="8.8"/><rect x="420.12" y="408.96" width="8.8" height="8.8"/><rect x="420.84" y="408.99" width="8.8" height="8.8"/><rect x="421.55" y="409.01" width="8.8" height="8.8"/><rect x="422.27" y="409.04" width="8.8" height="8.8"/><rect x="422.98" y="409.07" width="8.8" height="8.8"/><rect x="423.7" y="409.09" width="8.8" height="8.8"/><rect x="424.42" y="409.12" width="8.8" height="8.8"/><rect x="425.13" y="409.15" width="8.8" height="8.8"/><rect x="425.85" y="409.17" width="8.8" height="8.8"/><rect x="426.57" y="409.2" width="8.8" height="8.8"/><rect x="427.28" y="409.22" width="8.8" height="8.8"/><rect x="428" y="409.25" width="8.8" height="8.8"/><rect x="428.71" y="409.27" width="8.8" height="8.8"/><rect x="429.43" y="409.3" width="8.8" height="8.8"/><rect x="430.15" y="409.32" width="8.8" height="8.8"/><rect x="430.86" y="409.35" width="8.8" height="8.8"/><rect x="431.58" y="409.37" width="8.8" height="8.8"/><rect x="432.3" y="409.4" width="8.8" height="8.8"/><rect x="433.01" y="409.42" width="8.8" height="8.8"/><rect x="433.73" y="409.45" width="8.8" height="8.8"/><rect x="434.44" y="409.47" width="8.8" height="8.8"/><rect x="435.16" y="409.5" width="8.8" height="8.8"/><rect x="435.88" y="409.52" width="8.8" height="8.8"/><rect x="436.59" y="409.55" width="8.8" height="8.8"/><rect x="437.31" y="409.57" width="8.8" height="8.8"/><rect x="438.03" y="409.59" width="8.8" height="8.8"/><rect x="438.74" y="409.62" width="8.8" height="8.8"/><rect x="439.46" y="409.64" width="8.8" height="8.8"/><rect x="440.17" y="409.66" width="8.8" height="8.8"/><rect x="440.89" y="409.69" width="8.8" height="8.8"/><rect x="441.61" y="409.71" width="8.8" height="8.8"/><rect x="442.32" y="409.73" width="8.8" height="8.8"/><rect x="443.04" y="409.76" width="8.8" height="8.8"/><rect x="443.76" y="409.78" width="8.8" height="8.8"/><rect x="444.47" y="409.8" width="8.8" height="8.8"/><rect x="445.19" y="409.82" width="8.8" height="8.8"/><rect x="445.9" y="409.85" width="8.8" height="8.8"/><rect x="446.62" y="409.87" width="8.8" height="8.8"/><rect x="447.34" y="409.89" width="8.8" height="8.8"/><rect x="448.05" y="409.91" width="8.8" height="8.8"/><rect x="448.77" y="409.93" width="8.8" height="8.8"/><rect x="449.49" y="409.96" width="8.8" height="8.8"/><rect x="450.2" y="409.98" width="8.8" height="8.8"/><rect x="450.92" y="410" width="8.8" height="8.8"/><rect x="451.63" y="410.02" width="8.8" height="8.8"/><rect x="452.35" y="410.04" width="8.8" height="8.8"/><rect x="453.07" y="410.06" width="8.8" height="8.8"/><rect x="453.78" y="410.08" width="8.8" height="8.8"/><rect x="454.5" y="410.11" width="8.8" height="8.8"/><rect x="455.22" y="410.13" width="8.8" height="8.8"/><rect x="455.93" y="410.15" width="8.8" height="8.8"/><rect x="456.65" y="410.17" width="8.8" height="8.8"/><rect x="457.36" y="410.19" width="8.8" height="8.8"/><rect x="458.08" y="410.21" width="8.8" height="8.8"/><rect x="458.8" y="410.23" width="8.8" height="8.8"/><rect x="459.51" y="410.25" width="8.8" height="8.8"/><rect x="460.23" y="410.27" width="8.8" height="8.8"/><rect x="460.95" y="410.29" width="8.8" height="8.8"/><rect x="461.66" y="410.31" width="8.8" height="8.8"/><rect x="462.38" y="410.33" width="8.8" height="8.8"/><rect x="463.09" y="410.35" width="8.8" height="8.8"/><rect x="463.81" y="410.37" width="8.8" height="8.8"/><rect x="464.53" y="410.39" width="8.8" height="8.8"/><rect x="465.24" y="410.41" width="8.8" height="8.8"/><rect x="465.96" y="410.43" width="8.8" height="8.8"/><rect x="466.68" y="410.45" width="8.8" height="8.8"/><rect x="467.39" y="410.47" width="8.8" height="8.8"/><rect x="468.11" y="410.49" width="8.8" height="8.8"/><rect x="468.82" y="410.51" width="8.8" height="8.8"/><rect x="469.54" y="410.52" width="8.8" height="8.8"/><rect x="470.26" y="410.54" width="8.8" height="8.8"/><rect x="470.97" y="410.56" width="8.8" height="8.8"/><rect x="471.69" y="410.58" width="8.8" height="8.8"/><rect x="472.41" y="410.6" width="8.8" height="8.8"/><rect x="473.12" y="410.62" width="8.8" height="8.8"/><rect x="473.84" y="410.64" width="8.8" height="8.8"/><rect x="474.55" y="410.65" width="8.8" height="8.8"/><rect x="475.27" y="410.67" width="8.8" height="8.8"/><rect x="475.99" y="410.69" width="8.8" height="8.8"/><rect x="476.7" y="410.71" width="8.8" height="8.8"/><rect x="477.42" y="410.73" width="8.8" height="8.8"/><rect x="478.14" y="410.74" width="8.8" height="8.8"/><rect x="478.85" y="410.76" width="8.8" height="8.8"/><rect x="479.57" y="410.78" width="8.8" height="8.8"/><rect x="480.28" y="410.8" width="8.8" height="8.8"/><rect x="481" y="410.82" width="8.8" height="8.8"/><rect x="481.72" y="410.83" width="8.8" height="8.8"/><rect x="482.43" y="410.85" width="8.8" height="8.8"/><rect x="483.15" y="410.87" width="8.8" height="8.8"/><rect x="483.87" y="410.88" width="8.8" height="8.8"/><rect x="484.58" y="410.9" width="8.8" height="8.8"/><rect x="485.3" y="410.92" width="8.8" height="8.8"/><rect x="486.01" y="410.94" width="8.8" height="8.8"/><rect x="486.73" y="410.95" width="8.8" height="8.8"/><rect x="487.45" y="410.97" width="8.8" height="8.8"/><rect x="488.16" y="410.99" width="8.8" height="8.8"/><rect x="488.88" y="411" width="8.8" height="8.8"/><rect x="489.6" y="411.02" width="8.8" height="8.8"/><rect x="490.31" y="411.04" width="8.8" height="8.8"/><rect x="491.03" y="411.05" width="8.8" height="8.8"/><rect x="491.74" y="411.07" width="8.8" height="8.8"/><rect x="492.46" y="411.09" width="8.8" height="8.8"/><rect x="493.18" y="411.1" width="8.8" height="8.8"/><rect x="493.89" y="411.12" width="8.8" height="8.8"/><rect x="494.61" y="411.13" width="8.8" height="8.8"/><rect x="495.33" y="411.15" width="8.8" height="8.8"/><rect x="496.04" y="411.17" width="8.8" height="8.8"/><rect x="496.76" y="411.18" width="8.8" height="8.8"/><rect x="497.47" y="411.2" width="8.8" height="8.8"/><rect x="498.19" y="411.21" width="8.8" height="8.8"/><rect x="498.91" y="411.23" width="8.8" height="8.8"/><rect x="499.62" y="411.24" width="8.8" height="8.8"/><rect x="500.34" y="411.26" width="8.8" height="8.8"/><rect x="501.06" y="411.27" width="8.8" height="8.8"/><rect x="501.77" y="411.29" width="8.8" height="8.8"/><rect x="502.49" y="411.31" width="8.8" height="8.8"/><rect x="503.2" y="411.32" width="8.8" height="8.8"/><rect x="503.92" y="411.34" width="8.8" height="8.8"/><rect x="504.64" y="411.35" width="8.8" height="8.8"/><rect x="505.35" y="411.37" width="8.8" height="8.8"/><rect x="506.07" y="411.38" width="8.8" height="8.8"/><rect x="506.79" y="411.4" width="8.8" height="8.8"/><rect x="507.5" y="411.41" width="8.8" height="8.8"/><rect x="508.22" y="411.42" width="8.8" height="8.8"/><rect x="508.93" y="411.44" width="8.8" height="8.8"/><rect x="509.65" y="411.45" width="8.8" height="8.8"/><rect x="510.37" y="411.47" width="8.8" height="8.8"/><rect x="511.08" y="411.48" width="8.8" height="8.8"/><rect x="511.8" y="411.5" width="8.8" height="8.8"/><rect x="512.51" y="411.51" width="8.8" height="8.8"/><rect x="513.23" y="411.53" width="8.8" height="8.8"/><rect x="513.95" y="411.54" width="8.8" height="8.8"/><rect x="514.66" y="411.55" width="8.8" height="8.8"/><rect x="515.38" y="411.57" width="8.8" height="8.8"/><rect x="516.1" y="411.58" width="8.8" height="8.8"/><rect x="516.81" y="411.6" width="8.8" height="8.8"/><rect x="517.53" y="411.61" width="8.8" height="8.8"/><rect x="518.25" y="411.62" width="8.8" height="8.8"/><rect x="518.96" y="411.64" width="8.8" height="8.8"/><rect x="519.68" y="411.65" width="8.8" height="8.8"/><rect x="520.39" y="411.66" width="8.8" height="8.8"/><rect x="521.11" y="411.68" width="8.8" height="8.8"/><rect x="521.83" y="411.69" width="8.8" height="8.8"/><rect x="522.54" y="411.71" width="8.8" height="8.8"/><rect x="523.26" y="411.72" width="8.8" height="8.8"/><rect x="523.98" y="411.73" width="8.8" height="8.8"/><rect x="524.69" y="411.75" width="8.8" height="8.8"/><rect x="525.41" y="411.76" width="8.8" height="8.8"/><rect x="526.12" y="411.77" width="8.8" height="8.8"/><rect x="526.84" y="411.78" width="8.8" height="8.8"/><rect x="527.56" y="411.8" width="8.8" height="8.8"/><rect x="528.27" y="411.81" width="8.8" height="8.8"/><rect x="528.99" y="411.82" width="8.8" height="8.8"/><rect x="529.71" y="411.84" width="8.8" height="8.8"/><rect x="530.42" y="411.85" width="8.8" height="8.8"/><rect x="531.14" y="411.86" width="8.8" height="8.8"/><rect x="531.85" y="411.87" width="8.8" height="8.8"/><rect x="532.57" y="411.89" width="8.8" height="8.8"/><rect x="533.29" y="411.9" width="8.8" height="8.8"/><rect x="534" y="411.91" width="8.8" height="8.8"/><rect x="534.72" y="411.92" width="8.8" height="8.8"/><rect x="535.44" y="411.94" width="8.8" height="8.8"/><rect x="536.15" y="411.95" width="8.8" height="8.8"/><rect x="536.87" y="411.96" width="8.8" height="8.8"/><rect x="537.58" y="411.97" width="8.8" height="8.8"/><rect x="538.3" y="411.99" width="8.8" height="8.8"/><rect x="539.02" y="412" width="8.8" height="8.8"/><rect x="539.73" y="412.01" width="8.8" height="8.8"/><rect x="540.45" y="412.02" width="8.8" height="8.8"/><rect x="541.17" y="412.03" width="8.8" height="8.8"/><rect x="541.88" y="412.05" width="8.8" height="8.8"/><rect x="542.6" y="412.06" width="8.8" height="8.8"/><rect x="543.31" y="412.07" width="8.8" height="8.8"/><rect x="544.03" y="412.08" width="8.8" height="8.8"/><rect x="544.75" y="412.09" width="8.8" height="8.8"/><rect x="545.46" y="412.11" width="8.8" height="8.8"/><rect x="546.18" y="412.12" width="8.8" height="8.8"/><rect x="546.9" y="412.13" width="8.8" height="8.8"/><rect x="547.61" y="412.14" width="8.8" height="8.8"/><rect x="548.33" y="412.15" width="8.8" height="8.8"/><rect x="549.04" y="412.16" width="8.8" height="8.8"/><rect x="549.76" y="412.17" width="8.8" height="8.8"/><rect x="550.48" y="412.19" width="8.8" height="8.8"/><rect x="551.19" y="412.2" width="8.8" height="8.8"/><rect x="551.91" y="412.21" width="8.8" height="8.8"/><rect x="552.62" y="412.22" width="8.8" height="8.8"/><rect x="553.34" y="412.23" width="8.8" height="8.8"/><rect x="554.06" y="412.24" width="8.8" height="8.8"/><rect x="554.77" y="412.25" width="8.8" height="8.8"/><rect x="555.49" y="412.26" width="8.8" height="8.8"/><rect x="556.21" y="412.27" width="8.8" height="8.8"/><rect x="556.92" y="412.29" width="8.8" height="8.8"/><rect x="557.64" y="412.3" width="8.8" height="8.8"/><rect x="558.36" y="412.31" width="8.8" height="8.8"/><rect x="559.07" y="412.32" width="8.8" height="8.8"/><rect x="559.79" y="412.33" width="8.8" height="8.8"/><rect x="560.5" y="412.34" width="8.8" height="8.8"/><rect x="561.22" y="412.35" width="8.8" height="8.8"/><rect x="561.94" y="412.36" width="8.8" height="8.8"/><rect x="562.65" y="412.37" width="8.8" height="8.8"/><rect x="563.37" y="412.38" width="8.8" height="8.8"/><rect x="564.09" y="412.39" width="8.8" height="8.8"/><rect x="564.8" y="412.4" width="8.8" height="8.8"/><rect x="565.52" y="412.41" width="8.8" height="8.8"/><rect x="566.23" y="412.42" width="8.8" height="8.8"/><rect x="566.95" y="412.43" width="8.8" height="8.8"/><rect x="567.67" y="412.44" width="8.8" height="8.8"/><rect x="568.38" y="412.45" width="8.8" height="8.8"/><rect x="569.1" y="412.46" width="8.8" height="8.8"/><rect x="569.82" y="412.47" width="8.8" height="8.8"/><rect x="570.53" y="412.49" width="8.8" height="8.8"/><rect x="571.25" y="412.5" width="8.8" height="8.8"/><rect x="571.96" y="412.51" width="8.8" height="8.8"/><rect x="572.68" y="412.52" width="8.8" height="8.8"/><rect x="573.4" y="412.53" width="8.8" height="8.8"/><rect x="574.11" y="412.54" width="8.8" height="8.8"/><rect x="574.83" y="412.54" width="8.8" height="8.8"/><rect x="575.55" y="412.55" width="8.8" height="8.8"/><rect x="576.26" y="412.56" width="8.8" height="8.8"/><rect x="576.98" y="412.57" width="8.8" height="8.8"/><rect x="577.69" y="412.58" width="8.8" height="8.8"/><rect x="578.41" y="412.59" width="8.8" height="8.8"/><rect x="579.13" y="412.6" width="8.8" height="8.8"/><rect x="579.84" y="412.61" width="8.8" height="8.8"/><rect x="580.56" y="412.62" width="8.8" height="8.8"/><rect x="581.28" y="412.63" width="8.8" height="8.8"/><rect x="581.99" y="412.64" width="8.8" height="8.8"/><rect x="582.71" y="412.65" width="8.8" height="8.8"/><rect x="583.42" y="412.66" width="8.8" height="8.8"/><rect x="584.14" y="412.67" width="8.8" height="8.8"/><rect x="584.86" y="412.68" width="8.8" height="8.8"/><rect x="585.57" y="412.69" width="8.8" height="8.8"/><rect x="586.29" y="412.7" width="8.8" height="8.8"/><rect x="587" y="412.71" width="8.8" height="8.8"/><rect x="587.72" y="412.72" width="8.8" height="8.8"/><rect x="588.44" y="412.73" width="8.8" height="8.8"/><rect x="589.15" y="412.74" width="8.8" height="8.8"/><rect x="589.87" y="412.74" width="8.8" height="8.8"/><rect x="590.59" y="412.75" width="8.8" height="8.8"/><rect x="591.3" y="412.76" width="8.8" height="8.8"/><rect x="592.02" y="412.77" width="8.8" height="8.8"/><rect x="592.74" y="412.78" width="8.8" height="8.8"/><rect x="593.45" y="412.79" width="8.8" height="8.8"/><rect x="594.17" y="412.8" width="8.8" height="8.8"/><rect x="594.88" y="412.81" width="8.8" height="8.8"/><rect x="595.6" y="412.82" width="8.8" height="8.8"/><rect x="596.32" y="412.83" width="8.8" height="8.8"/><rect x="597.03" y="412.83" width="8.8" height="8.8"/><rect x="597.75" y="412.84" width="8.8" height="8.8"/><rect x="598.47" y="412.85" width="8.8" height="8.8"/><rect x="599.18" y="412.86" width="8.8" height="8.8"/><rect x="599.9" y="412.87" width="8.8" height="8.8"/><rect x="600.61" y="412.88" width="8.8" height="8.8"/><rect x="601.33" y="412.89" width="8.8" height="8.8"/><rect x="602.05" y="412.89" width="8.8" height="8.8"/><rect x="602.76" y="412.9" width="8.8" height="8.8"/><rect x="603.48" y="412.91" width="8.8" height="8.8"/><rect x="604.2" y="412.92" width="8.8" height="8.8"/><rect x="604.91" y="412.93" width="8.8" height="8.8"/><rect x="605.63" y="412.94" width="8.8" height="8.8"/><rect x="606.34" y="412.95" width="8.8" height="8.8"/><rect x="607.06" y="412.95" width="8.8" height="8.8"/><rect x="607.78" y="412.96" width="8.8" height="8.8"/><rect x="608.49" y="412.97" width="8.8" height="8.8"/><rect x="609.21" y="412.98" width="8.8" height="8.8"/><rect x="609.93" y="412.99" width="8.8" height="8.8"/><rect x="610.64" y="413" width="8.8" height="8.8"/><rect x="611.36" y="413" width="8.8" height="8.8"/><rect x="612.07" y="413.01" width="8.8" height="8.8"/><rect x="612.79" y="413.02" width="8.8" height="8.8"/><rect x="613.51" y="413.03" width="8.8" height="8.8"/><rect x="614.22" y="413.04" width="8.8" height="8.8"/><rect x="614.94" y="413.04" width="8.8" height="8.8"/><rect x="615.65" y="413.05" width="8.8" height="8.8"/><rect x="616.37" y="413.06" width="8.8" height="8.8"/><rect x="617.09" y="413.07" width="8.8" height="8.8"/><rect x="617.8" y="413.08" width="8.8" height="8.8"/><rect x="618.52" y="413.08" width="8.8" height="8.8"/><rect x="619.24" y="413.09" width="8.8" height="8.8"/><rect x="619.95" y="413.1" width="8.8" height="8.8"/><rect x="620.67" y="413.11" width="8.8" height="8.8"/><rect x="621.38" y="413.12" width="8.8" height="8.8"/><rect x="622.1" y="413.12" width="8.8" height="8.8"/><rect x="622.82" y="413.13" width="8.8" height="8.8"/><rect x="623.53" y="413.14" width="8.8" height="8.8"/><rect x="624.25" y="413.15" width="8.8" height="8.8"/><rect x="624.97" y="413.16" width="8.8" height="8.8"/><rect x="625.68" y="413.16" width="8.8" height="8.8"/><rect x="626.4" y="413.17" width="8.8" height="8.8"/><rect x="627.12" y="413.18" width="8.8" height="8.8"/><rect x="627.83" y="413.19" width="8.8" height="8.8"/><rect x="628.55" y="413.19" width="8.8" height="8.8"/><rect x="629.26" y="413.2" width="8.8" height="8.8"/><rect x="629.98" y="413.21" width="8.8" height="8.8"/><rect x="630.7" y="413.22" width="8.8" height="8.8"/><rect x="631.41" y="413.22" width="8.8" height="8.8"/><rect x="632.13" y="413.23" width="8.8" height="8.8"/><rect x="632.85" y="413.24" width="8.8" height="8.8"/><rect x="633.56" y="413.25" width="8.8" height="8.8"/><rect x="634.28" y="413.25" width="8.8" height="8.8"/><rect x="634.99" y="413.26" width="8.8" height="8.8"/><rect x="635.71" y="413.27" width="8.8" height="8.8"/><rect x="636.43" y="413.28" width="8.8" height="8.8"/><rect x="637.14" y="413.28" width="8.8" height="8.8"/><rect x="637.86" y="413.29" width="8.8" height="8.8"/><rect x="638.58" y="413.3" width="8.8" height="8.8"/><rect x="639.29" y="413.3" width="8.8" height="8.8"/><rect x="640.01" y="413.31" width="8.8" height="8.8"/><rect x="640.72" y="413.32" width="8.8" height="8.8"/><rect x="641.44" y="413.33" width="8.8" height="8.8"/><rect x="642.16" y="413.33" width="8.8" height="8.8"/><rect x="642.87" y="413.34" width="8.8" height="8.8"/><rect x="643.59" y="413.35" width="8.8" height="8.8"/><rect x="644.31" y="413.36" width="8.8" height="8.8"/><rect x="645.02" y="413.36" width="8.8" height="8.8"/><rect x="645.74" y="413.37" width="8.8" height="8.8"/><rect x="646.45" y="413.38" width="8.8" height="8.8"/><rect x="647.17" y="413.38" width="8.8" height="8.8"/><rect x="647.89" y="413.39" width="8.8" height="8.8"/><rect x="648.6" y="413.4" width="8.8" height="8.8"/><rect x="649.32" y="413.4" width="8.8" height="8.8"/><rect x="650.03" y="413.41" width="8.8" height="8.8"/><rect x="650.75" y="413.42" width="8.8" height="8.8"/><rect x="651.47" y="413.43" width="8.8" height="8.8"/><rect x="652.18" y="413.43" width="8.8" height="8.8"/><rect x="652.9" y="413.44" width="8.8" height="8.8"/></g>
<g fill="#fff" stroke="#0e820e" stroke-width="1.75"><circle cx="654.43" cy="341.78" r="4.85"/><circle cx="651.11" cy="341.62" r="4.85"/><circle cx="647.79" cy="341.45" r="4.85"/><circle cx="644.46" cy="341.29" r="4.85"/><circle cx="641.14" cy="341.12" r="4.85"/><circle cx="637.82" cy="340.96" r="4.85"/><circle cx="634.49" cy="340.8" r="4.85"/><circle cx="631.17" cy="340.64" r="4.85"/><circle cx="627.85" cy="340.49" r="4.85"/><circle cx="624.52" cy="340.33" r="4.85"/><circle cx="621.2" cy="340.18" r="4.85"/><circle cx="617.88" cy="340.02" r="4.85"/><circle cx="614.55" cy="339.87" r="4.85"/><circle cx="611.23" cy="339.72" r="4.85"/><circle cx="607.91" cy="339.57" r="4.85"/><circle cx="604.58" cy="339.42" r="4.85"/><circle cx="601.26" cy="339.28" r="4.85"/><circle cx="597.94" cy="339.13" r="4.85"/><circle cx="594.61" cy="338.98" r="4.85"/><circle cx="591.29" cy="338.84" r="4.85"/><circle cx="587.97" cy="338.69" r="4.85"/><circle cx="584.64" cy="338.55" r="4.85"/><circle cx="581.32" cy="338.4" r="4.85"/><circle cx="578" cy="338.26" r="4.85"/><circle cx="574.67" cy="338.12" r="4.85"/><circle cx="571.35" cy="337.98" r="4.85"/><circle cx="568.03" cy="337.83" r="4.85"/><circle cx="564.7" cy="337.69" r="4.85"/><circle cx="561.38" cy="337.55" r="4.85"/><circle cx="558.06" cy="337.41" r="4.85"/><circle cx="554.73" cy="337.27" r="4.85"/><circle cx="551.41" cy="337.13" r="4.85"/><circle cx="548.09" cy="336.98" r="4.85"/><circle cx="544.76" cy="336.84" r="4.85"/><circle cx="541.44" cy="336.7" r="4.85"/><circle cx="538.12" cy="336.56" r="4.85"/><circle cx="534.79" cy="336.41" r="4.85"/><circle cx="531.47" cy="336.27" r="4.85"/><circle cx="528.15" cy="336.12" r="4.85"/><circle cx="524.82" cy="335.97" r="4.85"/><circle cx="521.5" cy="335.82" r="4.85"/><circle cx="518.18" cy="335.66" r="4.85"/><circle cx="514.85" cy="335.51" r="4.85"/><circle cx="511.53" cy="335.35" r="4.85"/><circle cx="508.21" cy="335.2" r="4.85"/><circle cx="504.88" cy="335.04" r="4.85"/><circle cx="501.56" cy="334.88" r="4.85"/><circle cx="498.24" cy="334.73" r="4.85"/><circle cx="494.91" cy="334.57" r="4.85"/><circle cx="491.59" cy="334.42" r="4.85"/><circle cx="488.27" cy="334.26" r="4.85"/><circle cx="484.94" cy="334.11" r="4.85"/><circle cx="481.62" cy="333.96" r="4.85"/><circle cx="478.29" cy="333.81" r="4.85"/><circle cx="474.97" cy="333.67" r="4.85"/><circle cx="471.65" cy="333.52" r="4.85"/><circle cx="468.32" cy="333.38" r="4.85"/><circle cx="465" cy="333.25" r="4.85"/><circle cx="461.68" cy="333.11" r="4.85"/><circle cx="458.35" cy="332.98" r="4.85"/><circle cx="455.03" cy="332.86" r="4.85"/><circle cx="451.71" cy="332.74" r="4.85"/><circle cx="448.38" cy="332.62" r="4.85"/><circle cx="445.06" cy="332.51" r="4.85"/><circle cx="441.74" cy="332.41" r="4.85"/><circle cx="438.41" cy="332.31" r="4.85"/><circle cx="435.09" cy="332.22" r="4.85"/><circle cx="431.77" cy="332.13" r="4.85"/><circle cx="428.44" cy="332.05" r="4.85"/><circle cx="425.12" cy="331.97" r="4.85"/><circle cx="421.8" cy="331.9" r="4.85"/><circle cx="418.47" cy="331.82" r="4.85"/><circle cx="415.15" cy="331.74" r="4.85"/><circle cx="411.83" cy="331.66" r="4.85"/><circle cx="408.5" cy="331.59" r="4.85"/><circle cx="405.18" cy="331.52" r="4.85"/><circle cx="401.86" cy="331.45" r="4.85"/><circle cx="398.53" cy="331.38" r="4.85"/><circle cx="395.21" cy="331.32" r="4.85"/><circle cx="391.89" cy="331.27" r="4.85"/><circle cx="388.56" cy="331.22" r="4.85"/><circle cx="385.24" cy="331.17" r="4.85"/><circle cx="381.92" cy="331.14" r="4.85"/><circle cx="378.59" cy="331.11" r="4.85"/><circle cx="375.27" cy="331.09" r="4.85"/><circle cx="371.95" cy="331.09" r="4.85"/><circle cx="368.62" cy="331.09" r="4.85"/><circle cx="365.3" cy="331.09" r="4.85"/><circle cx="361.98" cy="331.09" r="4.85"/><circle cx="358.65" cy="331.09" r="4.85"/><circle cx="355.33" cy="331.09" r="4.85"/><circle cx="352.01" cy="331.09" r="4.85"/><circle cx="348.68" cy="331.09" r="4.85"/><circle cx="345.36" cy="331.09" r="4.85"/><circle cx="342.04" cy="331.09" r="4.85"/><circle cx="338.71" cy="331.09" r="4.85"/><circle cx="335.39" cy="331.09" r="4.85"/><circle cx="332.07" cy="331.09" r="4.85"/><circle cx="328.74" cy="331.09" r="4.85"/><circle cx="325.42" cy="331.09" r="4.85"/><circle cx="322.09" cy="331.09" r="4.85"/><circle cx="318.77" cy="331.09" r="4.85"/><circle cx="315.45" cy="331.09" r="4.85"/><circle cx="312.12" cy="331.09" r="4.85"/><circle cx="308.8" cy="331.09" r="4.85"/><circle cx="305.48" cy="331.09" r="4.85"/><circle cx="302.15" cy="331.09" r="4.85"/><circle cx="298.83" cy="331.09" r="4.85"/><circle cx="295.51" cy="331.09" r="4.85"/><circle cx="292.18" cy="331.09" r="4.85"/><circle cx="288.86" cy="331.09" r="4.85"/><circle cx="285.54" cy="331.09" r="4.85"/><circle cx="282.21" cy="331.09" r="4.85"/><circle cx="278.89" cy="331.09" r="4.85"/><circle cx="275.57" cy="331.09" r="4.85"/><circle cx="272.24" cy="331.09" r="4.85"/><circle cx="268.92" cy="331.08" r="4.85"/><circle cx="265.6" cy="331.02" r="4.85"/><circle cx="262.27" cy="330.92" r="4.85"/><circle cx="258.95" cy="330.77" r="4.85"/><circle cx="255.63" cy="330.59" r="4.85"/><circle cx="252.3" cy="330.39" r="4.85"/><circle cx="248.98" cy="330.16" r="4.85"/><circle cx="245.66" cy="329.93" r="4.85"/><circle cx="242.33" cy="329.69" r="4.85"/><circle cx="239.01" cy="329.45" r="4.85"/><circle cx="235.69" cy="329.19" r="4.85"/><circle cx="232.36" cy="328.91" r="4.85"/><circle cx="229.04" cy="328.59" r="4.85"/><circle cx="225.72" cy="328.25" r="4.85"/><circle cx="222.39" cy="327.88" r="4.85"/><circle cx="219.07" cy="327.48" r="4.85"/><circle cx="215.75" cy="327.06" r="4.85"/><circle cx="212.42" cy="326.63" r="4.85"/><circle cx="209.1" cy="326.17" r="4.85"/><circle cx="205.78" cy="325.69" r="4.85"/><circle cx="202.45" cy="325.17" r="4.85"/><circle cx="199.13" cy="324.61" r="4.85"/><circle cx="195.81" cy="324.01" r="4.85"/><circle cx="192.48" cy="323.37" r="4.85"/><circle cx="189.16" cy="322.67" r="4.85"/><circle cx="185.84" cy="321.93" r="4.85"/><circle cx="182.51" cy="321.13" r="4.85"/><circle cx="179.19" cy="320.27" r="4.85"/><circle cx="175.87" cy="319.29" r="4.85"/><circle cx="172.54" cy="318.17" r="4.85"/><circle cx="169.22" cy="316.95" r="4.85"/><circle cx="165.9" cy="315.62" r="4.85"/><circle cx="162.57" cy="314.2" r="4.85"/><circle cx="159.25" cy="312.6" r="4.85"/><circle cx="155.93" cy="310.77" r="4.85"/><circle cx="152.6" cy="308.85" r="4.85"/><circle cx="149.28" cy="306.99" r="4.85"/><circle cx="145.95" cy="305.27" r="4.85"/><circle cx="142.63" cy="303.38" r="4.85"/><circle cx="139.31" cy="300.93" r="4.85"/><circle cx="135.98" cy="297.18" r="4.85"/><circle cx="132.66" cy="292.67" r="4.85"/><circle cx="129.34" cy="287.37" r="4.85"/><circle cx="126.01" cy="285.24" r="4.85"/><circle cx="122.69" cy="289.84" r="4.85"/><circle cx="119.37" cy="293.17" r="4.85"/><circle cx="116.04" cy="295.63" r="4.85"/><circle cx="112.72" cy="296.72" r="4.85"/><circle cx="109.4" cy="297.35" r="4.85"/><circle cx="106.07" cy="297.59" r="4.85"/><circle cx="102.75" cy="297.09" r="4.85"/><circle cx="99.43" cy="295.94" r="4.85"/><circle cx="96.1" cy="294.56" r="4.85"/><circle cx="92.78" cy="292.66" r="4.85"/><circle cx="89.46" cy="290.25" r="4.85"/></g>
</g>
<g stroke="#000" stroke-width="2" fill="none"><path d="M84.3 422.0 v-8 M84.3 1 v8"/><path d="M155.93 422.0 v-4 M155.93 1 v4"/><path d="M227.55 422.0 v-8 M227.55 1 v8"/><path d="M299.18 422.0 v-4 M299.18 1 v4"/><path d="M370.8 422.0 v-8 M370.8 1 v8"/><path d="M442.43 422.0 v-4 M442.43 1 v4"/><path d="M514.05 422.0 v-8 M514.05 1 v8"/><path d="M585.68 422.0 v-4 M585.68 1 v4"/><path d="M657.3 422.0 v-8 M657.3 1 v8"/><path d="M84.3 422 h8 M657 422 h-8"/><path d="M84.3 358.2 h4 M657 358.2 h-4"/><path d="M84.3 294.4 h8 M657 294.4 h-8"/><path d="M84.3 230.6 h4 M657 230.6 h-4"/><path d="M84.3 166.8 h8 M657 166.8 h-8"/><path d="M84.3 103 h4 M657 103 h-4"/><path d="M84.3 39.2 h8 M657 39.2 h-8"/></g>
<rect x="84.3" y="1" width="572.7" height="421.0" fill="none" stroke="#000" stroke-width="2"/>
<g font-family="Liberation Sans" font-size="22" fill="#000">
<text transform="translate(84.3,449.2) scale(1,1.075)" text-anchor="middle">0</text>
<text transform="translate(227.55,449.2) scale(1,1.075)" text-anchor="middle">50</text>
<text transform="translate(370.8,449.2) scale(1,1.075)" text-anchor="middle">100</text>
<text transform="translate(514.05,449.2) scale(1,1.075)" text-anchor="middle">150</text>
<text transform="translate(657.3,449.2) scale(1,1.075)" text-anchor="middle">200</text>
<text transform="translate(74.8,428.6) scale(1.02,1.075)" text-anchor="end">0.0</text>
<text transform="translate(74.8,301) scale(1.02,1.075)" text-anchor="end">0.2</text>
<text transform="translate(74.8,173.4) scale(1.02,1.075)" text-anchor="end">0.4</text>
<text transform="translate(74.8,45.8) scale(1.02,1.075)" text-anchor="end">0.6</text>
</g>
<text x="333" y="480" font-family="Liberation Sans" font-size="27"><tspan font-style="italic">T</tspan> (K)</text>
<g transform="translate(24.6,302) rotate(-90)">
<g transform="translate(-1.5,-12.4) scale(0.930)" fill="none" stroke="#000" stroke-linecap="round"><path d="M0.3 4.0 C0.6 1.4 2.4 0.4 3.5 2.2 L10.6 16.2 C11.3 17.6 12.9 18.0 13.5 14.3" stroke-width="1.85"/><path d="M11.4 0.6 L1.3 17.4" stroke-width="2.1"/></g>
<text x="18.6" y="0" font-family="Liberation Sans" font-size="27">(emu Oe<tspan font-size="16" dy="-13.5">-1</tspan><tspan dy="13.5">mol</tspan><tspan font-size="16" dy="-13.5">-1</tspan><tspan dy="13.5">)</tspan></text>
</g>
<text x="114.3" y="30.5" font-family="Liberation Sans" font-weight="bold" font-size="26">CePd<tspan font-size="17.5" dy="9">2</tspan><tspan dy="-9">As</tspan><tspan font-size="17.5" dy="9">2</tspan></text>
<text x="112.5" y="71.3" font-family="Liberation Sans" font-size="22"><tspan font-style="italic">μ</tspan><tspan font-size="13" dy="8">0</tspan><tspan dy="-8" font-style="italic">H</tspan> = 0.15 T</text>
<g transform="translate(154.4,173) scale(1.000)" fill="none" stroke="#000" stroke-linecap="round"><path d="M0.3 4.0 C0.6 1.4 2.4 0.4 3.5 2.2 L10.6 16.2 C11.3 17.6 12.9 18.0 13.5 14.3" stroke-width="1.85"/><path d="M11.4 0.6 L1.3 17.4" stroke-width="2.1"/></g>
<path d="M170 183.5 V198 M173 183.5 V198" stroke="#555" stroke-width="1"/>
<g transform="translate(237,292) scale(0.980)" fill="none" stroke="#000" stroke-linecap="round"><path d="M0.3 4.0 C0.6 1.4 2.4 0.4 3.5 2.2 L10.6 16.2 C11.3 17.6 12.9 18.0 13.5 14.3" stroke-width="1.85"/><path d="M11.4 0.6 L1.3 17.4" stroke-width="2.1"/></g>
<path d="M251.5 313.5 H261 M256.2 313.5 V305" stroke="#666" stroke-width="1"/>
<path d="M263.8 292.8 L273.7 302.6 M273.7 292.8 L263.8 302.6" stroke="#000" stroke-width="1.35"/>
<text transform="translate(276.6,304.6) scale(1.0,1.05)" font-family="Liberation Sans" font-size="22">50</text>
<rect x="352.6" y="13.6" width="287.4" height="241.4" fill="#fff"/>
<clipPath id="ic"><rect x="352.6" y="13.6" width="287.4" height="241.4"/></clipPath>
<g clip-path="url(#ic)">
<polyline fill="none" stroke="#ff0000" stroke-width="1.5" points="355.5,21.9 355.53,25.2 355.56,28.8 355.61,33.8 355.66,39.7 355.76,50.5 355.91,67.3 355.98,76.2 356.08,87.1 356.27,107.9 356.45,128.5 356.62,147.2 356.77,164 356.9,178.7 357.08,192.5 357.46,204.5 357.67,211.3 357.88,218 358.07,224 358.24,228.5 358.58,233 358.87,236.8 359.16,240.5 359.39,243.6 360.03,246.6 360.77,248.8 361.5,251 362.68,252.3 363.5,253.2 363.37,254.34 363.73,254.28 364.09,254.22 364.45,254.17 364.81,254.1 365.17,254.02 365.53,253.93 365.89,253.83 366.25,253.73 366.61,253.63 366.97,253.53 367.33,253.44 367.68,253.35 368.04,253.27 368.4,253.19 368.76,253.12 369.12,253.04 369.48,252.96 369.84,252.89 370.2,252.81 370.56,252.73 370.92,252.64 371.28,252.55 371.63,252.46 371.99,252.36 372.35,252.27 372.71,252.16 373.07,252.06 373.43,251.95 373.79,251.86 374.15,251.76 374.72,251.62 375.3,251.49 375.87,251.35 376.45,251.22 377.02,251.09 377.6,250.96 378.17,250.83 378.75,250.7 379.32,250.57 379.9,250.43 380.47,250.28 381.04,250.12 381.62,249.96 382.19,249.79 382.77,249.63 383.34,249.46 383.92,249.3 384.49,249.14 385.07,248.97 385.64,248.81 386.22,248.64 386.79,248.48 387.37,248.31 387.94,248.15 388.52,247.98 389.09,247.81 389.66,247.65 390.24,247.48 390.81,247.32 391.39,247.16 391.96,246.99 392.54,246.83 393.11,246.66 393.69,246.5 394.26,246.33 394.84,246.16 395.41,246 395.99,245.83 396.56,245.66 397.13,245.49 397.71,245.31 398.28,245.14 398.86,244.97 399.43,244.79 400.01,244.62 400.58,244.44 401.16,244.27 401.73,244.09 402.31,243.91 402.88,243.73 403.46,243.55 404.03,243.37 404.6,243.19 405.18,243.01 405.75,242.83 406.33,242.65 406.9,242.47 407.48,242.28 408.05,242.1 408.63,241.92 409.2,241.74 409.78,241.55 410.35,241.37 410.93,241.19 411.5,241 412.08,240.82 412.65,240.64 413.22,240.45 413.8,240.27 414.37,240.08 414.95,239.89 415.52,239.71 416.1,239.52 416.67,239.33 417.25,239.14 417.82,238.95 418.4,238.76 418.97,238.56 419.55,238.37 420.12,238.17 420.69,237.97 421.27,237.77 421.84,237.57 422.42,237.37 422.99,237.16 423.57,236.96 424.14,236.75 424.72,236.54 425.29,236.33 425.87,236.11 426.44,235.89 427.02,235.67 427.59,235.45 428.17,235.23 428.74,235 429.31,234.77 429.89,234.54 430.46,234.31 431.04,234.07 431.61,233.84 432.19,233.6 432.76,233.37 433.34,233.13 433.91,232.89 434.49,232.65 435.06,232.41 435.64,232.17 436.21,231.93 436.78,231.69 437.36,231.45 437.93,231.21 438.51,230.97 439.08,230.73 439.66,230.49 440.23,230.25 440.81,230.01 441.38,229.77 441.96,229.53 442.53,229.28 443.11,229.04 443.68,228.8 444.26,228.55 444.83,228.31 445.4,228.06 445.98,227.82 446.55,227.57 447.13,227.33 447.7,227.08 448.28,226.83 448.85,226.59 449.43,226.34 450,226.09 450.58,225.84 451.15,225.59 451.73,225.34 452.3,225.09 452.87,224.84 453.45,224.59 454.02,224.34 454.6,224.09 455.17,223.84 455.75,223.59 456.32,223.34 456.9,223.09 457.47,222.84 458.05,222.58 458.62,222.33 459.2,222.08 459.77,221.83 460.35,221.57 460.92,221.32 461.49,221.07 462.07,220.81 462.64,220.56 463.22,220.31 463.79,220.05 464.37,219.8 464.94,219.55 465.52,219.29 466.09,219.04 466.67,218.79 467.24,218.53 467.82,218.28 468.39,218.02 468.96,217.77 469.54,217.52 470.11,217.26 470.69,217.01 471.26,216.75 471.84,216.5 472.41,216.25 472.99,215.99 473.56,215.74 474.14,215.49 474.71,215.23 475.29,214.98 475.86,214.73 476.43,214.47 477.01,214.22 477.58,213.96 478.16,213.71 478.73,213.46 479.31,213.2 479.88,212.95 480.46,212.69 481.03,212.44 481.61,212.18 482.18,211.93 482.76,211.67 483.33,211.42 483.91,211.16 484.48,210.91 485.05,210.65 485.63,210.4 486.2,210.14 486.78,209.89 487.35,209.63 487.93,209.37 488.5,209.12 489.08,208.86 489.65,208.6 490.23,208.35 490.8,208.09 491.38,207.83 491.95,207.57 492.52,207.31 493.1,207.06 493.67,206.8 494.25,206.54 494.82,206.28 495.4,206.02 495.97,205.76 496.55,205.5 497.12,205.24 497.7,204.98 498.27,204.71 498.85,204.45 499.42,204.19 500,203.93 500.57,203.66 501.14,203.4 501.72,203.14 502.29,202.87 502.87,202.61 503.44,202.34 504.02,202.08 504.59,201.81 505.17,201.54 505.74,201.28 506.32,201.01 506.89,200.74 507.47,200.47 508.04,200.21 508.61,199.94 509.19,199.67 509.76,199.4 510.34,199.12 510.91,198.85 511.49,198.58 512.06,198.31 512.64,198.04 513.21,197.76 513.79,197.49 514.36,197.22 514.94,196.94 515.51,196.67 516.09,196.39 516.66,196.12 517.23,195.84 517.81,195.57 518.38,195.29 518.96,195.01 519.53,194.74 520.11,194.46 520.68,194.18 521.26,193.9 521.83,193.62 522.41,193.34 522.98,193.06 523.56,192.79 524.13,192.51 524.7,192.23 525.28,191.94 525.85,191.66 526.43,191.38 527,191.1 527.58,190.82 528.15,190.54 528.73,190.25 529.3,189.97 529.88,189.69 530.45,189.4 531.03,189.12 531.6,188.84 532.18,188.55 532.75,188.27 533.32,187.98 533.9,187.7 534.47,187.41 535.05,187.12 535.62,186.84 536.2,186.55 536.77,186.27 537.35,185.98 537.92,185.69 538.5,185.4 539.07,185.12 539.65,184.83 540.22,184.54 540.79,184.25 541.37,183.96 541.94,183.67 542.52,183.38 543.09,183.09 543.67,182.81 544.24,182.52 544.82,182.23 545.39,181.93 545.97,181.64 546.54,181.35 547.12,181.06 547.69,180.77 548.26,180.48 548.84,180.19 549.41,179.9 549.99,179.6 550.56,179.31 551.14,179.02 551.71,178.73 552.29,178.43 552.86,178.14 553.44,177.85 554.01,177.55 554.59,177.26 555.16,176.97 555.74,176.67 556.31,176.38 556.88,176.08 557.46,175.79 558.03,175.5 558.61,175.2 559.18,174.91 559.76,174.61 560.33,174.32 560.91,174.02 561.48,173.72 562.06,173.43 562.63,173.13 563.21,172.83 563.78,172.53 564.35,172.23 564.93,171.93 565.5,171.63 566.08,171.33 566.65,171.03 567.23,170.73 567.8,170.43 568.38,170.13 568.95,169.83 569.53,169.52 570.1,169.22 570.68,168.92 571.25,168.61 571.83,168.31 572.4,168 572.97,167.7 573.55,167.39 574.12,167.09 574.7,166.78 575.27,166.48 575.85,166.17 576.42,165.86 577,165.56 577.57,165.25 578.15,164.94 578.72,164.64 579.3,164.33 579.87,164.02 580.44,163.71 581.02,163.41 581.59,163.1 582.17,162.79 582.74,162.48 583.32,162.17 583.89,161.87 584.47,161.56 585.04,161.25 585.62,160.94 586.19,160.63 586.77,160.32 587.34,160.01 587.92,159.71 588.49,159.4 589.06,159.09 589.64,158.78 590.21,158.47 590.79,158.16 591.36,157.85 591.94,157.55 592.51,157.24 593.09,156.93 593.66,156.62 594.24,156.31 594.81,156.01 595.39,155.7 595.96,155.39 596.53,155.09 597.11,154.78 597.68,154.47 598.26,154.17 598.83,153.86 599.41,153.55 599.98,153.25 600.56,152.94 601.13,152.64 601.71,152.33 602.28,152.03 602.86,151.72 603.43,151.41 604.01,151.11 604.58,150.8 605.15,150.5 605.73,150.19 606.3,149.89 606.88,149.58 607.45,149.28 608.03,148.97 608.6,148.66 609.18,148.36 609.75,148.05 610.33,147.75 610.9,147.44 611.48,147.14 612.05,146.83 612.62,146.52 613.2,146.22 613.77,145.91 614.35,145.61 614.92,145.3 615.5,145 616.07,144.69 616.65,144.38 617.22,144.08 617.8,143.77 618.37,143.47 618.95,143.16 619.52,142.86 620.09,142.55 620.67,142.24 621.24,141.94 621.82,141.63 622.39,141.33 622.97,141.02 623.54,140.72 624.12,140.41 624.69,140.1 625.27,139.8 625.84,139.49 626.42,139.19 626.99,138.88 627.57,138.57 628.14,138.27 628.71,137.96 629.29,137.66 629.86,137.35 630.44,137.04 631.01,136.74 631.59,136.43 632.16,136.13 632.74,135.82 633.31,135.52 633.89,135.21 634.46,134.9 635.04,134.6 635.61,134.29 636.18,133.99 636.76,133.68 637.33,133.37 637.91,133.07 638.48,132.76 639.06,132.46 639.63,132.15"/>
<g fill="#fff" stroke="#ff0000" stroke-width="1.2"><rect x="637.03" y="129.55" width="5.2" height="5.2"/><rect x="636.46" y="129.86" width="5.2" height="5.2"/><rect x="635.88" y="130.16" width="5.2" height="5.2"/><rect x="635.31" y="130.47" width="5.2" height="5.2"/><rect x="634.73" y="130.77" width="5.2" height="5.2"/><rect x="634.16" y="131.08" width="5.2" height="5.2"/><rect x="633.58" y="131.39" width="5.2" height="5.2"/><rect x="633.01" y="131.69" width="5.2" height="5.2"/><rect x="632.44" y="132" width="5.2" height="5.2"/><rect x="631.86" y="132.3" width="5.2" height="5.2"/><rect x="631.29" y="132.61" width="5.2" height="5.2"/><rect x="630.71" y="132.92" width="5.2" height="5.2"/><rect x="630.14" y="133.22" width="5.2" height="5.2"/><rect x="629.56" y="133.53" width="5.2" height="5.2"/><rect x="628.99" y="133.83" width="5.2" height="5.2"/><rect x="628.41" y="134.14" width="5.2" height="5.2"/><rect x="627.84" y="134.44" width="5.2" height="5.2"/><rect x="627.26" y="134.75" width="5.2" height="5.2"/><rect x="626.69" y="135.06" width="5.2" height="5.2"/><rect x="626.11" y="135.36" width="5.2" height="5.2"/><rect x="625.54" y="135.67" width="5.2" height="5.2"/><rect x="624.97" y="135.97" width="5.2" height="5.2"/><rect x="624.39" y="136.28" width="5.2" height="5.2"/><rect x="623.82" y="136.59" width="5.2" height="5.2"/><rect x="623.24" y="136.89" width="5.2" height="5.2"/><rect x="622.67" y="137.2" width="5.2" height="5.2"/><rect x="622.09" y="137.5" width="5.2" height="5.2"/><rect x="621.52" y="137.81" width="5.2" height="5.2"/><rect x="620.94" y="138.12" width="5.2" height="5.2"/><rect x="620.37" y="138.42" width="5.2" height="5.2"/><rect x="619.79" y="138.73" width="5.2" height="5.2"/><rect x="619.22" y="139.03" width="5.2" height="5.2"/><rect x="618.64" y="139.34" width="5.2" height="5.2"/><rect x="618.07" y="139.64" width="5.2" height="5.2"/><rect x="617.49" y="139.95" width="5.2" height="5.2"/><rect x="616.92" y="140.26" width="5.2" height="5.2"/><rect x="616.35" y="140.56" width="5.2" height="5.2"/><rect x="615.77" y="140.87" width="5.2" height="5.2"/><rect x="615.2" y="141.17" width="5.2" height="5.2"/><rect x="614.62" y="141.48" width="5.2" height="5.2"/><rect x="614.05" y="141.78" width="5.2" height="5.2"/><rect x="613.47" y="142.09" width="5.2" height="5.2"/><rect x="612.9" y="142.4" width="5.2" height="5.2"/><rect x="612.32" y="142.7" width="5.2" height="5.2"/><rect x="611.75" y="143.01" width="5.2" height="5.2"/><rect x="611.17" y="143.31" width="5.2" height="5.2"/><rect x="610.6" y="143.62" width="5.2" height="5.2"/><rect x="610.02" y="143.92" width="5.2" height="5.2"/><rect x="609.45" y="144.23" width="5.2" height="5.2"/><rect x="608.88" y="144.54" width="5.2" height="5.2"/><rect x="608.3" y="144.84" width="5.2" height="5.2"/><rect x="607.73" y="145.15" width="5.2" height="5.2"/><rect x="607.15" y="145.45" width="5.2" height="5.2"/><rect x="606.58" y="145.76" width="5.2" height="5.2"/><rect x="606" y="146.06" width="5.2" height="5.2"/><rect x="605.43" y="146.37" width="5.2" height="5.2"/><rect x="604.85" y="146.68" width="5.2" height="5.2"/><rect x="604.28" y="146.98" width="5.2" height="5.2"/><rect x="603.7" y="147.29" width="5.2" height="5.2"/><rect x="603.13" y="147.59" width="5.2" height="5.2"/><rect x="602.55" y="147.9" width="5.2" height="5.2"/><rect x="601.98" y="148.2" width="5.2" height="5.2"/><rect x="601.41" y="148.51" width="5.2" height="5.2"/><rect x="600.83" y="148.81" width="5.2" height="5.2"/><rect x="600.26" y="149.12" width="5.2" height="5.2"/><rect x="599.68" y="149.43" width="5.2" height="5.2"/><rect x="599.11" y="149.73" width="5.2" height="5.2"/><rect x="598.53" y="150.04" width="5.2" height="5.2"/><rect x="597.96" y="150.34" width="5.2" height="5.2"/><rect x="597.38" y="150.65" width="5.2" height="5.2"/><rect x="596.81" y="150.95" width="5.2" height="5.2"/><rect x="596.23" y="151.26" width="5.2" height="5.2"/><rect x="595.66" y="151.57" width="5.2" height="5.2"/><rect x="595.08" y="151.87" width="5.2" height="5.2"/><rect x="594.51" y="152.18" width="5.2" height="5.2"/><rect x="593.93" y="152.49" width="5.2" height="5.2"/><rect x="593.36" y="152.79" width="5.2" height="5.2"/><rect x="592.79" y="153.1" width="5.2" height="5.2"/><rect x="592.21" y="153.41" width="5.2" height="5.2"/><rect x="591.64" y="153.71" width="5.2" height="5.2"/><rect x="591.06" y="154.02" width="5.2" height="5.2"/><rect x="590.49" y="154.33" width="5.2" height="5.2"/><rect x="589.91" y="154.64" width="5.2" height="5.2"/><rect x="589.34" y="154.95" width="5.2" height="5.2"/><rect x="588.76" y="155.25" width="5.2" height="5.2"/><rect x="588.19" y="155.56" width="5.2" height="5.2"/><rect x="587.61" y="155.87" width="5.2" height="5.2"/><rect x="587.04" y="156.18" width="5.2" height="5.2"/><rect x="586.46" y="156.49" width="5.2" height="5.2"/><rect x="585.89" y="156.8" width="5.2" height="5.2"/><rect x="585.32" y="157.11" width="5.2" height="5.2"/><rect x="584.74" y="157.41" width="5.2" height="5.2"/><rect x="584.17" y="157.72" width="5.2" height="5.2"/><rect x="583.59" y="158.03" width="5.2" height="5.2"/><rect x="583.02" y="158.34" width="5.2" height="5.2"/><rect x="582.44" y="158.65" width="5.2" height="5.2"/><rect x="581.87" y="158.96" width="5.2" height="5.2"/><rect x="581.29" y="159.27" width="5.2" height="5.2"/><rect x="580.72" y="159.57" width="5.2" height="5.2"/><rect x="580.14" y="159.88" width="5.2" height="5.2"/><rect x="579.57" y="160.19" width="5.2" height="5.2"/><rect x="578.99" y="160.5" width="5.2" height="5.2"/><rect x="578.42" y="160.81" width="5.2" height="5.2"/><rect x="577.84" y="161.11" width="5.2" height="5.2"/><rect x="577.27" y="161.42" width="5.2" height="5.2"/><rect x="576.7" y="161.73" width="5.2" height="5.2"/><rect x="576.12" y="162.04" width="5.2" height="5.2"/><rect x="575.55" y="162.34" width="5.2" height="5.2"/><rect x="574.97" y="162.65" width="5.2" height="5.2"/><rect x="574.4" y="162.96" width="5.2" height="5.2"/><rect x="573.82" y="163.26" width="5.2" height="5.2"/><rect x="573.25" y="163.57" width="5.2" height="5.2"/><rect x="572.67" y="163.88" width="5.2" height="5.2"/><rect x="572.1" y="164.18" width="5.2" height="5.2"/><rect x="571.52" y="164.49" width="5.2" height="5.2"/><rect x="570.95" y="164.79" width="5.2" height="5.2"/><rect x="570.37" y="165.1" width="5.2" height="5.2"/><rect x="569.8" y="165.4" width="5.2" height="5.2"/><rect x="569.23" y="165.71" width="5.2" height="5.2"/><rect x="568.65" y="166.01" width="5.2" height="5.2"/><rect x="568.08" y="166.32" width="5.2" height="5.2"/><rect x="567.5" y="166.62" width="5.2" height="5.2"/><rect x="566.93" y="166.92" width="5.2" height="5.2"/><rect x="566.35" y="167.23" width="5.2" height="5.2"/><rect x="565.78" y="167.53" width="5.2" height="5.2"/><rect x="565.2" y="167.83" width="5.2" height="5.2"/><rect x="564.63" y="168.13" width="5.2" height="5.2"/><rect x="564.05" y="168.43" width="5.2" height="5.2"/><rect x="563.48" y="168.73" width="5.2" height="5.2"/><rect x="562.9" y="169.03" width="5.2" height="5.2"/><rect x="562.33" y="169.33" width="5.2" height="5.2"/><rect x="561.75" y="169.63" width="5.2" height="5.2"/><rect x="561.18" y="169.93" width="5.2" height="5.2"/><rect x="560.61" y="170.23" width="5.2" height="5.2"/><rect x="560.03" y="170.53" width="5.2" height="5.2"/><rect x="559.46" y="170.83" width="5.2" height="5.2"/><rect x="558.88" y="171.12" width="5.2" height="5.2"/><rect x="558.31" y="171.42" width="5.2" height="5.2"/><rect x="557.73" y="171.72" width="5.2" height="5.2"/><rect x="557.16" y="172.01" width="5.2" height="5.2"/><rect x="556.58" y="172.31" width="5.2" height="5.2"/><rect x="556.01" y="172.6" width="5.2" height="5.2"/><rect x="555.43" y="172.9" width="5.2" height="5.2"/><rect x="554.86" y="173.19" width="5.2" height="5.2"/><rect x="554.28" y="173.48" width="5.2" height="5.2"/><rect x="553.71" y="173.78" width="5.2" height="5.2"/><rect x="553.14" y="174.07" width="5.2" height="5.2"/><rect x="552.56" y="174.37" width="5.2" height="5.2"/><rect x="551.99" y="174.66" width="5.2" height="5.2"/><rect x="551.41" y="174.95" width="5.2" height="5.2"/><rect x="550.84" y="175.25" width="5.2" height="5.2"/><rect x="550.26" y="175.54" width="5.2" height="5.2"/><rect x="549.69" y="175.83" width="5.2" height="5.2"/><rect x="549.11" y="176.13" width="5.2" height="5.2"/><rect x="548.54" y="176.42" width="5.2" height="5.2"/><rect x="547.96" y="176.71" width="5.2" height="5.2"/><rect x="547.39" y="177" width="5.2" height="5.2"/><rect x="546.81" y="177.3" width="5.2" height="5.2"/><rect x="546.24" y="177.59" width="5.2" height="5.2"/><rect x="545.66" y="177.88" width="5.2" height="5.2"/><rect x="545.09" y="178.17" width="5.2" height="5.2"/><rect x="544.52" y="178.46" width="5.2" height="5.2"/><rect x="543.94" y="178.75" width="5.2" height="5.2"/><rect x="543.37" y="179.04" width="5.2" height="5.2"/><rect x="542.79" y="179.33" width="5.2" height="5.2"/><rect x="542.22" y="179.63" width="5.2" height="5.2"/><rect x="541.64" y="179.92" width="5.2" height="5.2"/><rect x="541.07" y="180.21" width="5.2" height="5.2"/><rect x="540.49" y="180.49" width="5.2" height="5.2"/><rect x="539.92" y="180.78" width="5.2" height="5.2"/><rect x="539.34" y="181.07" width="5.2" height="5.2"/><rect x="538.77" y="181.36" width="5.2" height="5.2"/><rect x="538.19" y="181.65" width="5.2" height="5.2"/><rect x="537.62" y="181.94" width="5.2" height="5.2"/><rect x="537.05" y="182.23" width="5.2" height="5.2"/><rect x="536.47" y="182.52" width="5.2" height="5.2"/><rect x="535.9" y="182.8" width="5.2" height="5.2"/><rect x="535.32" y="183.09" width="5.2" height="5.2"/><rect x="534.75" y="183.38" width="5.2" height="5.2"/><rect x="534.17" y="183.67" width="5.2" height="5.2"/><rect x="533.6" y="183.95" width="5.2" height="5.2"/><rect x="533.02" y="184.24" width="5.2" height="5.2"/><rect x="532.45" y="184.52" width="5.2" height="5.2"/><rect x="531.87" y="184.81" width="5.2" height="5.2"/><rect x="531.3" y="185.1" width="5.2" height="5.2"/><rect x="530.72" y="185.38" width="5.2" height="5.2"/><rect x="530.15" y="185.67" width="5.2" height="5.2"/><rect x="529.58" y="185.95" width="5.2" height="5.2"/><rect x="529" y="186.24" width="5.2" height="5.2"/><rect x="528.43" y="186.52" width="5.2" height="5.2"/><rect x="527.85" y="186.8" width="5.2" height="5.2"/><rect x="527.28" y="187.09" width="5.2" height="5.2"/><rect x="526.7" y="187.37" width="5.2" height="5.2"/><rect x="526.13" y="187.65" width="5.2" height="5.2"/><rect x="525.55" y="187.94" width="5.2" height="5.2"/><rect x="524.98" y="188.22" width="5.2" height="5.2"/><rect x="524.4" y="188.5" width="5.2" height="5.2"/><rect x="523.83" y="188.78" width="5.2" height="5.2"/><rect x="523.25" y="189.06" width="5.2" height="5.2"/><rect x="522.68" y="189.34" width="5.2" height="5.2"/><rect x="522.1" y="189.63" width="5.2" height="5.2"/><rect x="521.53" y="189.91" width="5.2" height="5.2"/><rect x="520.96" y="190.19" width="5.2" height="5.2"/><rect x="520.38" y="190.46" width="5.2" height="5.2"/><rect x="519.81" y="190.74" width="5.2" height="5.2"/><rect x="519.23" y="191.02" width="5.2" height="5.2"/><rect x="518.66" y="191.3" width="5.2" height="5.2"/><rect x="518.08" y="191.58" width="5.2" height="5.2"/><rect x="517.51" y="191.86" width="5.2" height="5.2"/><rect x="516.93" y="192.14" width="5.2" height="5.2"/><rect x="516.36" y="192.41" width="5.2" height="5.2"/><rect x="515.78" y="192.69" width="5.2" height="5.2"/><rect x="515.21" y="192.97" width="5.2" height="5.2"/><rect x="514.63" y="193.24" width="5.2" height="5.2"/><rect x="514.06" y="193.52" width="5.2" height="5.2"/><rect x="513.49" y="193.79" width="5.2" height="5.2"/><rect x="512.91" y="194.07" width="5.2" height="5.2"/><rect x="512.34" y="194.34" width="5.2" height="5.2"/><rect x="511.76" y="194.62" width="5.2" height="5.2"/><rect x="511.19" y="194.89" width="5.2" height="5.2"/><rect x="510.61" y="195.16" width="5.2" height="5.2"/><rect x="510.04" y="195.44" width="5.2" height="5.2"/><rect x="509.46" y="195.71" width="5.2" height="5.2"/><rect x="508.89" y="195.98" width="5.2" height="5.2"/><rect x="508.31" y="196.25" width="5.2" height="5.2"/><rect x="507.74" y="196.52" width="5.2" height="5.2"/><rect x="507.16" y="196.8" width="5.2" height="5.2"/><rect x="506.59" y="197.07" width="5.2" height="5.2"/><rect x="506.01" y="197.34" width="5.2" height="5.2"/><rect x="505.44" y="197.61" width="5.2" height="5.2"/><rect x="504.87" y="197.87" width="5.2" height="5.2"/><rect x="504.29" y="198.14" width="5.2" height="5.2"/><rect x="503.72" y="198.41" width="5.2" height="5.2"/><rect x="503.14" y="198.68" width="5.2" height="5.2"/><rect x="502.57" y="198.94" width="5.2" height="5.2"/><rect x="501.99" y="199.21" width="5.2" height="5.2"/><rect x="501.42" y="199.48" width="5.2" height="5.2"/><rect x="500.84" y="199.74" width="5.2" height="5.2"/><rect x="500.27" y="200.01" width="5.2" height="5.2"/><rect x="499.69" y="200.27" width="5.2" height="5.2"/><rect x="499.12" y="200.54" width="5.2" height="5.2"/><rect x="498.54" y="200.8" width="5.2" height="5.2"/><rect x="497.97" y="201.06" width="5.2" height="5.2"/><rect x="497.4" y="201.33" width="5.2" height="5.2"/><rect x="496.82" y="201.59" width="5.2" height="5.2"/><rect x="496.25" y="201.85" width="5.2" height="5.2"/><rect x="495.67" y="202.11" width="5.2" height="5.2"/><rect x="495.1" y="202.38" width="5.2" height="5.2"/><rect x="494.52" y="202.64" width="5.2" height="5.2"/><rect x="493.95" y="202.9" width="5.2" height="5.2"/><rect x="493.37" y="203.16" width="5.2" height="5.2"/><rect x="492.8" y="203.42" width="5.2" height="5.2"/><rect x="492.22" y="203.68" width="5.2" height="5.2"/><rect x="491.65" y="203.94" width="5.2" height="5.2"/><rect x="491.07" y="204.2" width="5.2" height="5.2"/><rect x="490.5" y="204.46" width="5.2" height="5.2"/><rect x="489.92" y="204.71" width="5.2" height="5.2"/><rect x="489.35" y="204.97" width="5.2" height="5.2"/><rect x="488.78" y="205.23" width="5.2" height="5.2"/><rect x="488.2" y="205.49" width="5.2" height="5.2"/><rect x="487.63" y="205.75" width="5.2" height="5.2"/><rect x="487.05" y="206" width="5.2" height="5.2"/><rect x="486.48" y="206.26" width="5.2" height="5.2"/><rect x="485.9" y="206.52" width="5.2" height="5.2"/><rect x="485.33" y="206.77" width="5.2" height="5.2"/><rect x="484.75" y="207.03" width="5.2" height="5.2"/><rect x="484.18" y="207.29" width="5.2" height="5.2"/><rect x="483.6" y="207.54" width="5.2" height="5.2"/><rect x="483.03" y="207.8" width="5.2" height="5.2"/><rect x="482.45" y="208.05" width="5.2" height="5.2"/><rect x="481.88" y="208.31" width="5.2" height="5.2"/><rect x="481.31" y="208.56" width="5.2" height="5.2"/><rect x="480.73" y="208.82" width="5.2" height="5.2"/><rect x="480.16" y="209.07" width="5.2" height="5.2"/><rect x="479.58" y="209.33" width="5.2" height="5.2"/><rect x="479.01" y="209.58" width="5.2" height="5.2"/><rect x="478.43" y="209.84" width="5.2" height="5.2"/><rect x="477.86" y="210.09" width="5.2" height="5.2"/><rect x="477.28" y="210.35" width="5.2" height="5.2"/><rect x="476.71" y="210.6" width="5.2" height="5.2"/><rect x="476.13" y="210.86" width="5.2" height="5.2"/><rect x="475.56" y="211.11" width="5.2" height="5.2"/><rect x="474.98" y="211.36" width="5.2" height="5.2"/><rect x="474.41" y="211.62" width="5.2" height="5.2"/><rect x="473.83" y="211.87" width="5.2" height="5.2"/><rect x="473.26" y="212.13" width="5.2" height="5.2"/><rect x="472.69" y="212.38" width="5.2" height="5.2"/><rect x="472.11" y="212.63" width="5.2" height="5.2"/><rect x="471.54" y="212.89" width="5.2" height="5.2"/><rect x="470.96" y="213.14" width="5.2" height="5.2"/><rect x="470.39" y="213.39" width="5.2" height="5.2"/><rect x="469.81" y="213.65" width="5.2" height="5.2"/><rect x="469.24" y="213.9" width="5.2" height="5.2"/><rect x="468.66" y="214.15" width="5.2" height="5.2"/><rect x="468.09" y="214.41" width="5.2" height="5.2"/><rect x="467.51" y="214.66" width="5.2" height="5.2"/><rect x="466.94" y="214.92" width="5.2" height="5.2"/><rect x="466.36" y="215.17" width="5.2" height="5.2"/><rect x="465.79" y="215.42" width="5.2" height="5.2"/><rect x="465.22" y="215.68" width="5.2" height="5.2"/><rect x="464.64" y="215.93" width="5.2" height="5.2"/><rect x="464.07" y="216.19" width="5.2" height="5.2"/><rect x="463.49" y="216.44" width="5.2" height="5.2"/><rect x="462.92" y="216.69" width="5.2" height="5.2"/><rect x="462.34" y="216.95" width="5.2" height="5.2"/><rect x="461.77" y="217.2" width="5.2" height="5.2"/><rect x="461.19" y="217.45" width="5.2" height="5.2"/><rect x="460.62" y="217.71" width="5.2" height="5.2"/><rect x="460.04" y="217.96" width="5.2" height="5.2"/><rect x="459.47" y="218.21" width="5.2" height="5.2"/><rect x="458.89" y="218.47" width="5.2" height="5.2"/><rect x="458.32" y="218.72" width="5.2" height="5.2"/><rect x="457.75" y="218.97" width="5.2" height="5.2"/><rect x="457.17" y="219.23" width="5.2" height="5.2"/><rect x="456.6" y="219.48" width="5.2" height="5.2"/><rect x="456.02" y="219.73" width="5.2" height="5.2"/><rect x="455.45" y="219.98" width="5.2" height="5.2"/><rect x="454.87" y="220.24" width="5.2" height="5.2"/><rect x="454.3" y="220.49" width="5.2" height="5.2"/><rect x="453.72" y="220.74" width="5.2" height="5.2"/><rect x="453.15" y="220.99" width="5.2" height="5.2"/><rect x="452.57" y="221.24" width="5.2" height="5.2"/><rect x="452" y="221.49" width="5.2" height="5.2"/><rect x="451.42" y="221.74" width="5.2" height="5.2"/><rect x="450.85" y="221.99" width="5.2" height="5.2"/><rect x="450.27" y="222.24" width="5.2" height="5.2"/><rect x="449.7" y="222.49" width="5.2" height="5.2"/><rect x="449.13" y="222.74" width="5.2" height="5.2"/><rect x="448.55" y="222.99" width="5.2" height="5.2"/><rect x="447.98" y="223.24" width="5.2" height="5.2"/><rect x="447.4" y="223.49" width="5.2" height="5.2"/><rect x="446.83" y="223.74" width="5.2" height="5.2"/><rect x="446.25" y="223.99" width="5.2" height="5.2"/><rect x="445.68" y="224.23" width="5.2" height="5.2"/><rect x="445.1" y="224.48" width="5.2" height="5.2"/><rect x="444.53" y="224.73" width="5.2" height="5.2"/><rect x="443.95" y="224.97" width="5.2" height="5.2"/><rect x="443.38" y="225.22" width="5.2" height="5.2"/><rect x="442.8" y="225.46" width="5.2" height="5.2"/><rect x="442.23" y="225.71" width="5.2" height="5.2"/><rect x="441.66" y="225.95" width="5.2" height="5.2"/><rect x="441.08" y="226.2" width="5.2" height="5.2"/><rect x="440.51" y="226.44" width="5.2" height="5.2"/><rect x="439.93" y="226.68" width="5.2" height="5.2"/><rect x="439.36" y="226.93" width="5.2" height="5.2"/><rect x="438.78" y="227.17" width="5.2" height="5.2"/><rect x="438.21" y="227.41" width="5.2" height="5.2"/><rect x="437.63" y="227.65" width="5.2" height="5.2"/><rect x="437.06" y="227.89" width="5.2" height="5.2"/><rect x="436.48" y="228.13" width="5.2" height="5.2"/><rect x="435.91" y="228.37" width="5.2" height="5.2"/><rect x="435.33" y="228.61" width="5.2" height="5.2"/><rect x="434.76" y="228.85" width="5.2" height="5.2"/><rect x="434.18" y="229.09" width="5.2" height="5.2"/><rect x="433.61" y="229.33" width="5.2" height="5.2"/><rect x="433.04" y="229.57" width="5.2" height="5.2"/><rect x="432.46" y="229.81" width="5.2" height="5.2"/><rect x="431.89" y="230.05" width="5.2" height="5.2"/><rect x="431.31" y="230.29" width="5.2" height="5.2"/><rect x="430.74" y="230.53" width="5.2" height="5.2"/><rect x="430.16" y="230.77" width="5.2" height="5.2"/><rect x="429.59" y="231" width="5.2" height="5.2"/><rect x="429.01" y="231.24" width="5.2" height="5.2"/><rect x="428.44" y="231.47" width="5.2" height="5.2"/><rect x="427.86" y="231.71" width="5.2" height="5.2"/><rect x="427.29" y="231.94" width="5.2" height="5.2"/><rect x="426.71" y="232.17" width="5.2" height="5.2"/><rect x="426.14" y="232.4" width="5.2" height="5.2"/><rect x="425.57" y="232.63" width="5.2" height="5.2"/><rect x="424.99" y="232.85" width="5.2" height="5.2"/><rect x="424.42" y="233.07" width="5.2" height="5.2"/><rect x="423.84" y="233.29" width="5.2" height="5.2"/><rect x="423.27" y="233.51" width="5.2" height="5.2"/><rect x="422.69" y="233.73" width="5.2" height="5.2"/><rect x="422.12" y="233.94" width="5.2" height="5.2"/><rect x="421.54" y="234.15" width="5.2" height="5.2"/><rect x="420.97" y="234.36" width="5.2" height="5.2"/><rect x="420.39" y="234.56" width="5.2" height="5.2"/><rect x="419.82" y="234.77" width="5.2" height="5.2"/><rect x="419.24" y="234.97" width="5.2" height="5.2"/><rect x="418.67" y="235.17" width="5.2" height="5.2"/><rect x="418.09" y="235.37" width="5.2" height="5.2"/><rect x="417.52" y="235.57" width="5.2" height="5.2"/><rect x="416.95" y="235.77" width="5.2" height="5.2"/><rect x="416.37" y="235.96" width="5.2" height="5.2"/><rect x="415.8" y="236.16" width="5.2" height="5.2"/><rect x="415.22" y="236.35" width="5.2" height="5.2"/><rect x="414.65" y="236.54" width="5.2" height="5.2"/><rect x="414.07" y="236.73" width="5.2" height="5.2"/><rect x="413.5" y="236.92" width="5.2" height="5.2"/><rect x="412.92" y="237.11" width="5.2" height="5.2"/><rect x="412.35" y="237.29" width="5.2" height="5.2"/><rect x="411.77" y="237.48" width="5.2" height="5.2"/><rect x="411.2" y="237.67" width="5.2" height="5.2"/><rect x="410.62" y="237.85" width="5.2" height="5.2"/><rect x="410.05" y="238.04" width="5.2" height="5.2"/><rect x="409.48" y="238.22" width="5.2" height="5.2"/><rect x="408.9" y="238.4" width="5.2" height="5.2"/><rect x="408.33" y="238.59" width="5.2" height="5.2"/><rect x="407.75" y="238.77" width="5.2" height="5.2"/><rect x="407.18" y="238.95" width="5.2" height="5.2"/><rect x="406.6" y="239.14" width="5.2" height="5.2"/><rect x="406.03" y="239.32" width="5.2" height="5.2"/><rect x="405.45" y="239.5" width="5.2" height="5.2"/><rect x="404.88" y="239.68" width="5.2" height="5.2"/><rect x="404.3" y="239.87" width="5.2" height="5.2"/><rect x="403.73" y="240.05" width="5.2" height="5.2"/><rect x="403.15" y="240.23" width="5.2" height="5.2"/><rect x="402.58" y="240.41" width="5.2" height="5.2"/><rect x="402" y="240.59" width="5.2" height="5.2"/><rect x="401.43" y="240.77" width="5.2" height="5.2"/><rect x="400.86" y="240.95" width="5.2" height="5.2"/><rect x="400.28" y="241.13" width="5.2" height="5.2"/><rect x="399.71" y="241.31" width="5.2" height="5.2"/><rect x="399.13" y="241.49" width="5.2" height="5.2"/><rect x="398.56" y="241.67" width="5.2" height="5.2"/><rect x="397.98" y="241.84" width="5.2" height="5.2"/><rect x="397.41" y="242.02" width="5.2" height="5.2"/><rect x="396.83" y="242.19" width="5.2" height="5.2"/><rect x="396.26" y="242.37" width="5.2" height="5.2"/><rect x="395.68" y="242.54" width="5.2" height="5.2"/><rect x="395.11" y="242.71" width="5.2" height="5.2"/><rect x="394.53" y="242.89" width="5.2" height="5.2"/><rect x="393.96" y="243.06" width="5.2" height="5.2"/><rect x="393.39" y="243.23" width="5.2" height="5.2"/><rect x="392.81" y="243.4" width="5.2" height="5.2"/><rect x="392.24" y="243.56" width="5.2" height="5.2"/><rect x="391.66" y="243.73" width="5.2" height="5.2"/><rect x="391.09" y="243.9" width="5.2" height="5.2"/><rect x="390.51" y="244.06" width="5.2" height="5.2"/><rect x="389.94" y="244.23" width="5.2" height="5.2"/><rect x="389.36" y="244.39" width="5.2" height="5.2"/><rect x="388.79" y="244.56" width="5.2" height="5.2"/><rect x="388.21" y="244.72" width="5.2" height="5.2"/><rect x="387.64" y="244.88" width="5.2" height="5.2"/><rect x="387.06" y="245.05" width="5.2" height="5.2"/><rect x="386.49" y="245.21" width="5.2" height="5.2"/><rect x="385.92" y="245.38" width="5.2" height="5.2"/><rect x="385.34" y="245.55" width="5.2" height="5.2"/><rect x="384.77" y="245.71" width="5.2" height="5.2"/><rect x="384.19" y="245.88" width="5.2" height="5.2"/><rect x="383.62" y="246.04" width="5.2" height="5.2"/><rect x="383.04" y="246.21" width="5.2" height="5.2"/><rect x="382.47" y="246.37" width="5.2" height="5.2"/><rect x="381.89" y="246.54" width="5.2" height="5.2"/><rect x="381.32" y="246.7" width="5.2" height="5.2"/><rect x="380.74" y="246.86" width="5.2" height="5.2"/><rect x="380.17" y="247.03" width="5.2" height="5.2"/><rect x="379.59" y="247.19" width="5.2" height="5.2"/><rect x="379.02" y="247.36" width="5.2" height="5.2"/><rect x="378.44" y="247.52" width="5.2" height="5.2"/><rect x="377.87" y="247.68" width="5.2" height="5.2"/><rect x="377.3" y="247.83" width="5.2" height="5.2"/><rect x="376.72" y="247.97" width="5.2" height="5.2"/><rect x="376.15" y="248.1" width="5.2" height="5.2"/><rect x="375.57" y="248.23" width="5.2" height="5.2"/><rect x="375" y="248.36" width="5.2" height="5.2"/><rect x="374.42" y="248.49" width="5.2" height="5.2"/><rect x="373.85" y="248.62" width="5.2" height="5.2"/><rect x="373.27" y="248.75" width="5.2" height="5.2"/><rect x="372.7" y="248.89" width="5.2" height="5.2"/><rect x="372.12" y="249.02" width="5.2" height="5.2"/><rect x="371.55" y="249.16" width="5.2" height="5.2"/><rect x="371.19" y="249.26" width="5.2" height="5.2"/><rect x="370.83" y="249.35" width="5.2" height="5.2"/><rect x="370.47" y="249.46" width="5.2" height="5.2"/><rect x="370.11" y="249.56" width="5.2" height="5.2"/><rect x="369.75" y="249.67" width="5.2" height="5.2"/><rect x="369.39" y="249.76" width="5.2" height="5.2"/><rect x="369.03" y="249.86" width="5.2" height="5.2"/><rect x="368.68" y="249.95" width="5.2" height="5.2"/><rect x="368.32" y="250.04" width="5.2" height="5.2"/><rect x="367.96" y="250.13" width="5.2" height="5.2"/><rect x="367.6" y="250.21" width="5.2" height="5.2"/><rect x="367.24" y="250.29" width="5.2" height="5.2"/><rect x="366.88" y="250.36" width="5.2" height="5.2"/><rect x="366.52" y="250.44" width="5.2" height="5.2"/><rect x="366.16" y="250.52" width="5.2" height="5.2"/><rect x="365.8" y="250.59" width="5.2" height="5.2"/><rect x="365.44" y="250.67" width="5.2" height="5.2"/><rect x="365.08" y="250.75" width="5.2" height="5.2"/><rect x="364.73" y="250.84" width="5.2" height="5.2"/><rect x="364.37" y="250.93" width="5.2" height="5.2"/><rect x="364.01" y="251.03" width="5.2" height="5.2"/><rect x="363.65" y="251.13" width="5.2" height="5.2"/><rect x="363.29" y="251.23" width="5.2" height="5.2"/><rect x="362.93" y="251.33" width="5.2" height="5.2"/><rect x="362.57" y="251.42" width="5.2" height="5.2"/><rect x="362.21" y="251.5" width="5.2" height="5.2"/><rect x="361.85" y="251.57" width="5.2" height="5.2"/><rect x="361.49" y="251.62" width="5.2" height="5.2"/><rect x="361.13" y="251.68" width="5.2" height="5.2"/><rect x="360.77" y="251.74" width="5.2" height="5.2"/><rect x="360.9" y="250.6" width="5.2" height="5.2"/><rect x="360.08" y="249.7" width="5.2" height="5.2"/><rect x="358.9" y="248.4" width="5.2" height="5.2"/><rect x="358.17" y="246.2" width="5.2" height="5.2"/><rect x="357.43" y="244" width="5.2" height="5.2"/><rect x="356.79" y="241" width="5.2" height="5.2"/><rect x="356.56" y="237.9" width="5.2" height="5.2"/><rect x="356.27" y="234.2" width="5.2" height="5.2"/><rect x="355.98" y="230.4" width="5.2" height="5.2"/><rect x="355.64" y="225.9" width="5.2" height="5.2"/><rect x="355.47" y="221.4" width="5.2" height="5.2"/><rect x="355.28" y="215.4" width="5.2" height="5.2"/><rect x="355.07" y="208.7" width="5.2" height="5.2"/><rect x="354.86" y="201.9" width="5.2" height="5.2"/><rect x="354.48" y="189.9" width="5.2" height="5.2"/><rect x="354.3" y="176.1" width="5.2" height="5.2"/><rect x="354.17" y="161.4" width="5.2" height="5.2"/><rect x="354.02" y="144.6" width="5.2" height="5.2"/><rect x="353.85" y="125.9" width="5.2" height="5.2"/><rect x="353.67" y="105.3" width="5.2" height="5.2"/><rect x="353.48" y="84.5" width="5.2" height="5.2"/><rect x="353.38" y="73.6" width="5.2" height="5.2"/><rect x="353.31" y="64.7" width="5.2" height="5.2"/><rect x="353.16" y="47.9" width="5.2" height="5.2"/><rect x="353.06" y="37.1" width="5.2" height="5.2"/><rect x="353.01" y="31.2" width="5.2" height="5.2"/><rect x="352.96" y="26.2" width="5.2" height="5.2"/><rect x="352.93" y="22.6" width="5.2" height="5.2"/><rect x="352.9" y="19.3" width="5.2" height="5.2"/></g>
<g fill="#fff" stroke="#0e820e" stroke-width="0.95"><circle cx="638.84" cy="61.36" r="2.5"/><circle cx="637.12" cy="62.2" r="2.5"/><circle cx="635.39" cy="63.04" r="2.5"/><circle cx="633.67" cy="63.88" r="2.5"/><circle cx="631.95" cy="64.72" r="2.5"/><circle cx="630.22" cy="65.56" r="2.5"/><circle cx="628.5" cy="66.4" r="2.5"/><circle cx="626.78" cy="67.24" r="2.5"/><circle cx="625.05" cy="68.07" r="2.5"/><circle cx="623.33" cy="68.91" r="2.5"/><circle cx="621.6" cy="69.74" r="2.5"/><circle cx="619.88" cy="70.58" r="2.5"/><circle cx="618.16" cy="71.41" r="2.5"/><circle cx="616.43" cy="72.24" r="2.5"/><circle cx="614.71" cy="73.07" r="2.5"/><circle cx="612.98" cy="73.91" r="2.5"/><circle cx="611.26" cy="74.74" r="2.5"/><circle cx="609.54" cy="75.57" r="2.5"/><circle cx="607.81" cy="76.39" r="2.5"/><circle cx="606.09" cy="77.22" r="2.5"/><circle cx="604.36" cy="78.05" r="2.5"/><circle cx="602.64" cy="78.88" r="2.5"/><circle cx="600.92" cy="79.71" r="2.5"/><circle cx="599.19" cy="80.54" r="2.5"/><circle cx="597.47" cy="81.37" r="2.5"/><circle cx="595.74" cy="82.2" r="2.5"/><circle cx="594.02" cy="83.03" r="2.5"/><circle cx="592.3" cy="83.86" r="2.5"/><circle cx="590.57" cy="84.69" r="2.5"/><circle cx="588.85" cy="85.52" r="2.5"/><circle cx="587.12" cy="86.34" r="2.5"/><circle cx="585.4" cy="87.17" r="2.5"/><circle cx="583.68" cy="87.99" r="2.5"/><circle cx="581.95" cy="88.81" r="2.5"/><circle cx="580.23" cy="89.63" r="2.5"/><circle cx="578.51" cy="90.45" r="2.5"/><circle cx="576.78" cy="91.26" r="2.5"/><circle cx="575.06" cy="92.07" r="2.5"/><circle cx="573.33" cy="92.87" r="2.5"/><circle cx="571.61" cy="93.67" r="2.5"/><circle cx="569.89" cy="94.47" r="2.5"/><circle cx="568.16" cy="95.26" r="2.5"/><circle cx="566.44" cy="96.04" r="2.5"/><circle cx="564.71" cy="96.82" r="2.5"/><circle cx="562.99" cy="97.6" r="2.5"/><circle cx="561.27" cy="98.37" r="2.5"/><circle cx="559.54" cy="99.14" r="2.5"/><circle cx="557.82" cy="99.91" r="2.5"/><circle cx="556.09" cy="100.68" r="2.5"/><circle cx="554.37" cy="101.44" r="2.5"/><circle cx="552.65" cy="102.2" r="2.5"/><circle cx="550.92" cy="102.96" r="2.5"/><circle cx="549.2" cy="103.71" r="2.5"/><circle cx="547.47" cy="104.46" r="2.5"/><circle cx="545.75" cy="105.21" r="2.5"/><circle cx="544.03" cy="105.96" r="2.5"/><circle cx="542.3" cy="106.71" r="2.5"/><circle cx="540.58" cy="107.45" r="2.5"/><circle cx="538.86" cy="108.19" r="2.5"/><circle cx="537.13" cy="108.94" r="2.5"/><circle cx="535.41" cy="109.68" r="2.5"/><circle cx="533.68" cy="110.42" r="2.5"/><circle cx="531.96" cy="111.16" r="2.5"/><circle cx="530.24" cy="111.9" r="2.5"/><circle cx="528.51" cy="112.65" r="2.5"/><circle cx="526.79" cy="113.41" r="2.5"/><circle cx="525.06" cy="114.16" r="2.5"/><circle cx="523.34" cy="114.92" r="2.5"/><circle cx="521.62" cy="115.68" r="2.5"/><circle cx="519.89" cy="116.43" r="2.5"/><circle cx="518.17" cy="117.18" r="2.5"/><circle cx="516.44" cy="117.93" r="2.5"/><circle cx="514.72" cy="118.66" r="2.5"/><circle cx="513" cy="119.39" r="2.5"/><circle cx="511.27" cy="120.1" r="2.5"/><circle cx="509.55" cy="120.8" r="2.5"/><circle cx="507.82" cy="121.49" r="2.5"/><circle cx="506.1" cy="122.15" r="2.5"/><circle cx="504.38" cy="122.8" r="2.5"/><circle cx="502.65" cy="123.43" r="2.5"/><circle cx="500.93" cy="124.04" r="2.5"/><circle cx="499.21" cy="124.64" r="2.5"/><circle cx="497.48" cy="125.22" r="2.5"/><circle cx="495.76" cy="125.78" r="2.5"/><circle cx="494.03" cy="126.34" r="2.5"/><circle cx="492.31" cy="126.89" r="2.5"/><circle cx="490.59" cy="127.42" r="2.5"/><circle cx="488.86" cy="127.96" r="2.5"/><circle cx="487.14" cy="128.48" r="2.5"/><circle cx="485.41" cy="129" r="2.5"/><circle cx="483.69" cy="129.52" r="2.5"/><circle cx="481.97" cy="130.04" r="2.5"/><circle cx="480.24" cy="130.56" r="2.5"/><circle cx="478.52" cy="131.07" r="2.5"/><circle cx="476.79" cy="131.57" r="2.5"/><circle cx="475.07" cy="132.07" r="2.5"/><circle cx="473.35" cy="132.56" r="2.5"/><circle cx="471.62" cy="133.04" r="2.5"/><circle cx="469.9" cy="133.53" r="2.5"/><circle cx="468.17" cy="134.01" r="2.5"/><circle cx="466.45" cy="134.49" r="2.5"/><circle cx="464.73" cy="134.97" r="2.5"/><circle cx="463" cy="135.44" r="2.5"/><circle cx="461.28" cy="135.92" r="2.5"/><circle cx="459.55" cy="136.41" r="2.5"/><circle cx="457.83" cy="136.91" r="2.5"/><circle cx="456.11" cy="137.41" r="2.5"/><circle cx="454.38" cy="137.91" r="2.5"/><circle cx="452.66" cy="138.4" r="2.5"/><circle cx="450.94" cy="138.87" r="2.5"/><circle cx="449.21" cy="139.31" r="2.5"/><circle cx="447.49" cy="139.72" r="2.5"/><circle cx="445.76" cy="140.09" r="2.5"/><circle cx="444.04" cy="140.45" r="2.5"/><circle cx="442.32" cy="140.81" r="2.5"/><circle cx="440.59" cy="141.17" r="2.5"/><circle cx="438.87" cy="141.52" r="2.5"/><circle cx="437.14" cy="141.85" r="2.5"/><circle cx="435.42" cy="142.14" r="2.5"/><circle cx="433.7" cy="142.39" r="2.5"/><circle cx="431.97" cy="142.59" r="2.5"/><circle cx="430.25" cy="142.73" r="2.5"/><circle cx="428.52" cy="142.8" r="2.5"/><circle cx="426.8" cy="142.85" r="2.5"/><circle cx="425.08" cy="142.89" r="2.5"/><circle cx="423.35" cy="142.93" r="2.5"/><circle cx="421.63" cy="142.96" r="2.5"/><circle cx="419.9" cy="142.98" r="2.5"/><circle cx="418.18" cy="143" r="2.5"/><circle cx="416.46" cy="143.01" r="2.5"/><circle cx="414.73" cy="142.99" r="2.5"/><circle cx="413.01" cy="142.93" r="2.5"/><circle cx="411.29" cy="142.82" r="2.5"/><circle cx="409.56" cy="142.7" r="2.5"/><circle cx="407.84" cy="142.58" r="2.5"/><circle cx="406.11" cy="142.5" r="2.5"/><circle cx="404.39" cy="142.46" r="2.5"/><circle cx="402.67" cy="142.52" r="2.5"/><circle cx="400.94" cy="142.67" r="2.5"/><circle cx="399.22" cy="142.89" r="2.5"/><circle cx="397.49" cy="143.14" r="2.5"/><circle cx="395.77" cy="143.47" r="2.5"/><circle cx="394.05" cy="143.92" r="2.5"/><circle cx="392.32" cy="144.48" r="2.5"/><circle cx="390.6" cy="145.1" r="2.5"/><circle cx="388.87" cy="145.79" r="2.5"/><circle cx="387.15" cy="146.66" r="2.5"/><circle cx="385.43" cy="147.69" r="2.5"/><circle cx="383.7" cy="148.83" r="2.5"/><circle cx="381.98" cy="150.06" r="2.5"/><circle cx="380.25" cy="151.45" r="2.5"/><circle cx="378.53" cy="153.05" r="2.5"/><circle cx="376.81" cy="154.97" r="2.5"/><circle cx="375.08" cy="157.31" r="2.5"/><circle cx="373.36" cy="159.97" r="2.5"/><circle cx="371.63" cy="163.09" r="2.5"/><circle cx="369.91" cy="166.89" r="2.5"/><circle cx="368.19" cy="171.43" r="2.5"/><circle cx="366.46" cy="175.14" r="2.5"/><circle cx="364.74" cy="176.81" r="2.5"/><circle cx="363.02" cy="177.89" r="2.5"/><circle cx="361.29" cy="177.43" r="2.5"/><circle cx="359.57" cy="176.34" r="2.5"/><circle cx="357.84" cy="174.69" r="2.5"/><circle cx="356.12" cy="173.17" r="2.5"/><circle cx="354.4" cy="172.57" r="2.5"/></g>
</g>
<path d="M352.6 255.0 v-8 M352.6 13.6 v8 M388.52 255.0 v-4 M388.52 13.6 v4 M424.43 255.0 v-8 M424.43 13.6 v8 M460.35 255.0 v-4 M460.35 13.6 v4 M496.26 255.0 v-8 M496.26 13.6 v8 M532.18 255.0 v-4 M532.18 13.6 v4 M568.09 255.0 v-8 M568.09 13.6 v8 M604.01 255.0 v-4 M604.01 13.6 v4 M639.92 255.0 v-8 M639.92 13.6 v8 M352.6 255 h8 M640.0 255 h-8 M352.6 222.8 h4 M640.0 222.8 h-4 M352.6 190.6 h8 M640.0 190.6 h-8 M352.6 158.4 h4 M640.0 158.4 h-4 M352.6 126.2 h8 M640.0 126.2 h-8 M352.6 94 h4 M640.0 94 h-4 M352.6 61.8 h8 M640.0 61.8 h-8 M352.6 29.6 h4 M640.0 29.6 h-4" stroke="#000" stroke-width="1.6" fill="none"/>
<rect x="352.6" y="13.6" width="287.4" height="241.4" fill="none" stroke="#000" stroke-width="1.8"/>
<clipPath id="ic2"><rect x="353.5" y="14.5" width="285.6" height="239.6"/></clipPath>
<path clip-path="url(#ic2)" d="M353 207.1 L640 61.3 M411.5 256.73 L640 132.15" stroke="#0c0c8a" stroke-width="3" fill="none"/>
<g font-family="Liberation Sans" font-size="18" fill="#000">
<text x="352.6" y="279" text-anchor="middle">0</text>
<text x="424.43" y="279" text-anchor="middle">100</text>
<text x="496.26" y="279" text-anchor="middle">200</text>
<text x="568.09" y="279" text-anchor="middle">300</text>
<text x="639.92" y="279" text-anchor="middle">400</text>
<text x="343" y="261" text-anchor="end" font-size="18.4">0</text>
<text x="343" y="196.6" text-anchor="end" font-size="18.4">200</text>
<text x="343" y="132.2" text-anchor="end" font-size="18.4">400</text>
<text x="343" y="67.8" text-anchor="end" font-size="18.4">600</text>
</g>
<text x="481" y="302.3" font-family="Liberation Sans" font-size="20.8"><tspan font-style="italic">T</tspan> (K)</text>
<g transform="translate(302.2,211.6) rotate(-90)">
<g transform="translate(0.5,-10.6) scale(0.700)" fill="none" stroke="#000" stroke-linecap="round"><path d="M0.3 4.0 C0.6 1.4 2.4 0.4 3.5 2.2 L10.6 16.2 C11.3 17.6 12.9 18.0 13.5 14.3" stroke-width="1.85"/><path d="M11.4 0.6 L1.3 17.4" stroke-width="2.1"/></g>
<text x="8.6" y="-11.2" font-family="Liberation Sans" font-size="12">-1</text>
<text x="23.3" y="0" font-family="Liberation Sans" font-size="20">(emu<tspan font-size="12" dy="-9.6">-1</tspan><tspan dy="9.6">Oe mol)</tspan></text>
</g>
<g transform="translate(416.1,109.2) scale(0.820)" fill="none" stroke="#000" stroke-linecap="round"><path d="M0.3 4.0 C0.6 1.4 2.4 0.4 3.5 2.2 L10.6 16.2 C11.3 17.6 12.9 18.0 13.5 14.3" stroke-width="1.85"/><path d="M11.4 0.6 L1.3 17.4" stroke-width="2.1"/></g>
<path d="M428.3 127.5 H437 M432.7 127.5 V119.5" stroke="#666" stroke-width="1"/>
<text x="436.6" y="108.8" font-family="Liberation Serif" font-size="14">−1</text>
<g transform="translate(502,167.5) scale(0.830)" fill="none" stroke="#000" stroke-linecap="round"><path d="M0.3 4.0 C0.6 1.4 2.4 0.4 3.5 2.2 L10.6 16.2 C11.3 17.6 12.9 18.0 13.5 14.3" stroke-width="1.85"/><path d="M11.4 0.6 L1.3 17.4" stroke-width="2.1"/></g>
<path d="M515 177 V189 M518 177 V189" stroke="#666" stroke-width="1"/>
<text x="519.2" y="167" font-family="Liberation Serif" font-size="14">−1</text>
</svg></body></html>
